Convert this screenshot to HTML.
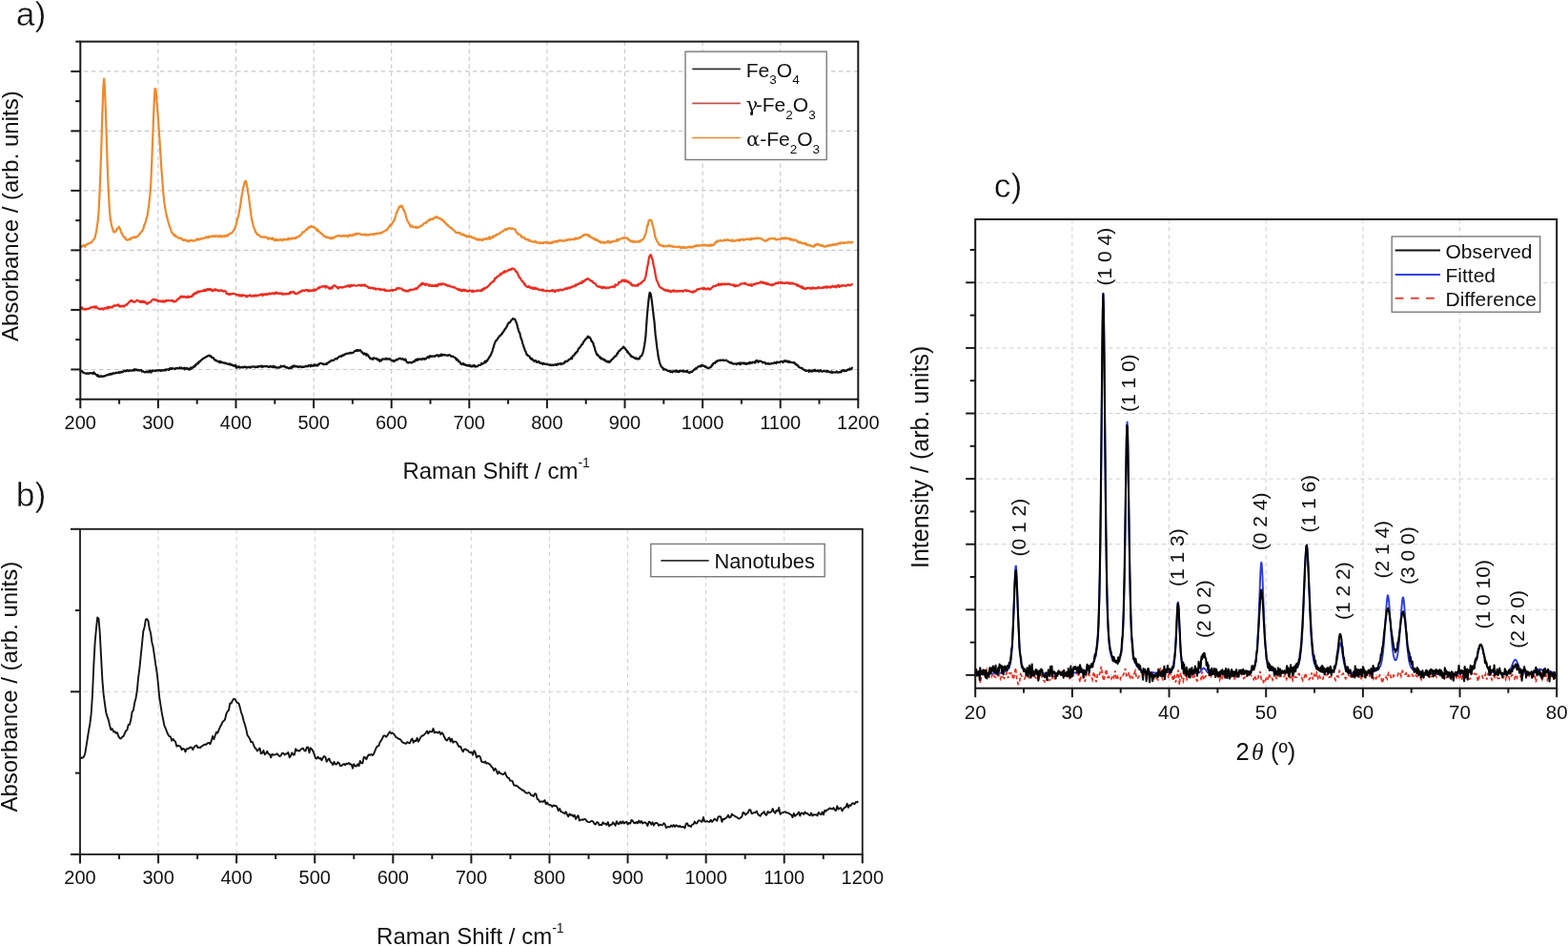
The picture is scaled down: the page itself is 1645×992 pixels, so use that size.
<!DOCTYPE html>
<html><head><meta charset="utf-8"><title>Raman and XRD spectra</title>
<style>html,body{margin:0;padding:0;background:#fff;} svg{display:block;}</style>
</head><body>
<svg width="1645" height="992" viewBox="0 0 1645 992" font-family="'Liberation Sans', sans-serif" fill="#111">
<rect width="1645" height="992" fill="#fff"/>
<line x1="165.90" y1="43.6" x2="165.90" y2="418.7" stroke="#c8c8c8" stroke-width="1.1" stroke-dasharray="4.5 3.5"/>
<line x1="247.50" y1="43.6" x2="247.50" y2="418.7" stroke="#c8c8c8" stroke-width="1.1" stroke-dasharray="4.5 3.5"/>
<line x1="329.10" y1="43.6" x2="329.10" y2="418.7" stroke="#c8c8c8" stroke-width="1.1" stroke-dasharray="4.5 3.5"/>
<line x1="410.70" y1="43.6" x2="410.70" y2="418.7" stroke="#c8c8c8" stroke-width="1.1" stroke-dasharray="4.5 3.5"/>
<line x1="492.30" y1="43.6" x2="492.30" y2="418.7" stroke="#c8c8c8" stroke-width="1.1" stroke-dasharray="4.5 3.5"/>
<line x1="573.90" y1="43.6" x2="573.90" y2="418.7" stroke="#c8c8c8" stroke-width="1.1" stroke-dasharray="4.5 3.5"/>
<line x1="655.50" y1="43.6" x2="655.50" y2="418.7" stroke="#c8c8c8" stroke-width="1.1" stroke-dasharray="4.5 3.5"/>
<line x1="737.10" y1="43.6" x2="737.10" y2="418.7" stroke="#c8c8c8" stroke-width="1.1" stroke-dasharray="4.5 3.5"/>
<line x1="818.70" y1="43.6" x2="818.70" y2="418.7" stroke="#c8c8c8" stroke-width="1.1" stroke-dasharray="4.5 3.5"/>
<line x1="84.3" y1="74.86" x2="900.3" y2="74.86" stroke="#c8c8c8" stroke-width="1.1" stroke-dasharray="4.5 3.5" stroke-dashoffset="-3.6"/>
<line x1="84.3" y1="137.38" x2="900.3" y2="137.38" stroke="#c8c8c8" stroke-width="1.1" stroke-dasharray="4.5 3.5" stroke-dashoffset="-3.6"/>
<line x1="84.3" y1="199.89" x2="900.3" y2="199.89" stroke="#c8c8c8" stroke-width="1.1" stroke-dasharray="4.5 3.5" stroke-dashoffset="-3.6"/>
<line x1="84.3" y1="262.41" x2="900.3" y2="262.41" stroke="#c8c8c8" stroke-width="1.1" stroke-dasharray="4.5 3.5" stroke-dashoffset="-3.6"/>
<line x1="84.3" y1="324.93" x2="900.3" y2="324.93" stroke="#c8c8c8" stroke-width="1.1" stroke-dasharray="4.5 3.5" stroke-dashoffset="-3.6"/>
<line x1="84.3" y1="387.44" x2="900.3" y2="387.44" stroke="#c8c8c8" stroke-width="1.1" stroke-dasharray="4.5 3.5" stroke-dashoffset="-3.6"/>
<path d="M84.00 388.30L84.60 388.86L85.20 389.09L85.80 388.81L86.40 390.22L87.00 390.40L87.60 390.31L88.20 391.13L88.80 391.30L89.40 391.49L90.00 391.54L90.60 391.88L91.20 391.35L91.80 391.61L92.40 391.44L93.00 391.89L93.60 391.59L94.20 391.38L94.80 391.11L95.40 391.29L96.00 391.36L96.60 391.20L97.20 391.90L97.80 391.83L98.40 390.30L99.00 390.92L99.60 392.01L100.20 392.25L100.80 392.89L101.40 393.22L102.00 394.36L102.60 393.14L103.20 393.69L103.80 395.00L104.40 394.59L105.00 394.79L105.60 394.44L106.20 394.07L106.80 394.99L107.40 395.02L108.00 394.40L108.60 394.55L109.20 394.64L109.80 394.01L110.40 394.11L111.00 393.89L111.60 393.57L112.20 393.05L112.80 393.31L113.40 393.26L114.00 392.84L114.60 392.19L115.20 392.75L115.80 392.07L116.40 392.57L117.00 391.57L117.60 392.35L118.20 391.83L118.80 391.17L119.40 391.49L120.00 391.55L120.60 391.55L121.20 390.88L121.80 390.72L122.40 391.20L123.00 390.80L123.60 391.00L124.20 391.12L124.80 389.91L125.40 390.64L126.00 390.94L126.60 390.12L127.20 389.75L127.80 390.31L128.40 389.94L129.00 390.09L129.60 389.39L130.20 388.75L130.80 389.24L131.40 388.96L132.00 389.39L132.60 389.02L133.20 388.10L133.80 388.21L134.40 389.07L135.00 388.92L135.60 388.27L136.20 388.51L136.80 388.66L137.40 388.62L138.00 388.76L138.60 388.43L139.20 388.23L139.80 388.11L140.40 388.67L141.00 387.14L141.60 388.06L142.20 388.11L142.80 387.43L143.40 388.20L144.00 387.74L144.60 388.40L145.20 387.95L145.80 388.31L146.40 388.61L147.00 388.35L147.60 387.98L148.20 387.95L148.80 389.71L149.40 389.18L150.00 389.20L150.60 389.82L151.20 389.86L151.80 390.44L152.40 390.10L153.00 390.08L153.60 389.71L154.20 390.20L154.80 389.45L155.40 390.14L156.00 390.44L156.60 388.98L157.20 388.46L157.80 389.75L158.40 390.52L159.00 388.83L159.60 388.62L160.20 389.36L160.80 388.64L161.40 388.72L162.00 388.73L162.60 389.07L163.20 388.60L163.80 388.86L164.40 388.62L165.00 388.28L165.60 388.47L166.20 388.15L166.80 388.55L167.40 388.01L168.00 387.99L168.60 389.10L169.20 388.38L169.80 388.34L170.40 388.55L171.00 388.09L171.60 388.13L172.20 388.37L172.80 388.25L173.40 387.54L174.00 388.37L174.60 387.64L175.20 387.31L175.80 387.25L176.40 387.32L177.00 388.07L177.60 386.64L178.20 387.07L178.80 385.88L179.40 386.70L180.00 386.98L180.60 386.37L181.20 386.13L181.80 386.48L182.40 386.65L183.00 386.60L183.60 387.16L184.20 386.33L184.80 385.94L185.40 386.13L186.00 386.13L186.60 386.18L187.20 386.10L187.80 386.17L188.40 385.32L189.00 386.43L189.60 385.79L190.20 385.50L190.80 386.31L191.40 386.61L192.00 386.23L192.60 386.08L193.20 385.59L193.80 387.34L194.40 386.55L195.00 385.80L195.60 386.16L196.20 386.76L196.80 386.22L197.40 387.15L198.00 386.95L198.60 387.70L199.20 387.46L199.80 385.58L200.40 386.51L201.00 385.38L201.60 386.18L202.20 385.29L202.80 384.98L203.40 383.78L204.00 384.62L204.60 384.26L205.20 382.43L205.80 382.60L206.40 381.63L207.00 381.41L207.60 380.32L208.20 381.19L208.80 379.38L209.40 379.15L210.00 378.98L210.60 377.95L211.20 377.64L211.80 377.03L212.40 376.79L213.00 375.91L213.60 375.82L214.20 375.50L214.80 375.01L215.40 374.76L216.00 374.20L216.60 374.31L217.20 373.51L217.80 373.34L218.40 372.93L219.00 372.91L219.60 372.61L220.20 373.56L220.80 373.07L221.40 373.61L222.00 374.54L222.60 375.05L223.20 375.22L223.80 375.04L224.40 376.69L225.00 377.15L225.60 376.90L226.20 378.32L226.80 378.03L227.40 378.13L228.00 378.90L228.60 378.97L229.20 379.31L229.80 378.65L230.40 380.33L231.00 379.38L231.60 379.09L232.20 380.19L232.80 379.88L233.40 380.31L234.00 380.15L234.60 380.43L235.20 380.72L235.80 380.43L236.40 381.23L237.00 380.88L237.60 380.86L238.20 381.46L238.80 381.79L239.40 381.66L240.00 381.54L240.60 382.38L241.20 381.48L241.80 381.98L242.40 382.63L243.00 382.17L243.60 382.96L244.20 383.09L244.80 383.70L245.40 383.07L246.00 383.40L246.60 384.05L247.20 383.01L247.80 385.72L248.40 384.22L249.00 384.39L249.60 385.27L250.20 385.00L250.80 384.31L251.40 385.46L252.00 385.58L252.60 384.99L253.20 385.06L253.80 385.40L254.40 384.76L255.00 385.36L255.60 385.23L256.20 384.82L256.80 384.48L257.40 384.99L258.00 384.68L258.60 385.51L259.20 385.10L259.80 385.37L260.40 385.06L261.00 385.09L261.60 384.59L262.20 385.22L262.80 385.69L263.40 384.71L264.00 384.54L264.60 384.70L265.20 384.51L265.80 384.37L266.40 384.71L267.00 384.48L267.60 385.22L268.20 384.54L268.80 384.65L269.40 384.90L270.00 384.32L270.60 385.08L271.20 384.13L271.80 384.04L272.40 384.24L273.00 384.35L273.60 383.77L274.20 384.38L274.80 383.65L275.40 385.03L276.00 384.36L276.60 384.11L277.20 383.99L277.80 384.23L278.40 384.30L279.00 383.93L279.60 383.99L280.20 384.32L280.80 384.17L281.40 384.82L282.00 384.91L282.60 384.41L283.20 384.61L283.80 383.80L284.40 384.70L285.00 384.44L285.60 384.74L286.20 385.33L286.80 383.68L287.40 384.94L288.00 384.45L288.60 385.34L289.20 384.60L289.80 385.09L290.40 385.50L291.00 385.77L291.60 385.59L292.20 385.21L292.80 385.25L293.40 385.68L294.00 384.93L294.60 383.77L295.20 384.55L295.80 384.11L296.40 384.24L297.00 383.75L297.60 384.40L298.20 383.74L298.80 384.70L299.40 384.48L300.00 385.27L300.60 385.68L301.20 385.14L301.80 385.66L302.40 385.86L303.00 386.48L303.60 386.27L304.20 385.29L304.80 385.82L305.40 385.63L306.00 385.90L306.60 383.84L307.20 384.06L307.80 384.71L308.40 383.42L309.00 383.48L309.60 384.27L310.20 384.53L310.80 383.82L311.40 384.41L312.00 384.28L312.60 384.97L313.20 384.35L313.80 384.86L314.40 384.07L315.00 384.46L315.60 384.55L316.20 385.15L316.80 384.93L317.40 384.35L318.00 385.00L318.60 385.02L319.20 384.58L319.80 384.44L320.40 384.38L321.00 383.60L321.60 384.32L322.20 384.21L322.80 383.58L323.40 384.17L324.00 383.09L324.60 383.33L325.20 383.25L325.80 384.26L326.40 382.57L327.00 383.49L327.60 383.63L328.20 383.37L328.80 383.73L329.40 382.75L330.00 382.17L330.60 383.55L331.20 382.66L331.80 383.05L332.40 382.64L333.00 383.50L333.60 383.08L334.20 381.86L334.80 382.03L335.40 381.20L336.00 380.78L336.60 380.82L337.20 380.83L337.80 381.44L338.40 381.58L339.00 381.52L339.60 382.28L340.20 381.58L340.80 381.92L341.40 381.83L342.00 382.11L342.60 380.97L343.20 381.69L343.80 380.66L344.40 380.16L345.00 379.60L345.60 379.82L346.20 379.24L346.80 378.41L347.40 378.10L348.00 378.06L348.60 377.71L349.20 378.21L349.80 378.03L350.40 377.49L351.00 376.95L351.60 376.28L352.20 376.19L352.80 376.25L353.40 376.51L354.00 375.66L354.60 374.82L355.20 374.66L355.80 374.11L356.40 373.66L357.00 373.60L357.60 373.44L358.20 373.86L358.80 372.74L359.40 373.02L360.00 372.91L360.60 371.88L361.20 372.32L361.80 371.69L362.40 370.99L363.00 371.13L363.60 370.89L364.20 370.66L364.80 370.58L365.40 370.66L366.00 370.72L366.60 370.05L367.20 370.37L367.80 369.62L368.40 370.33L369.00 370.38L369.60 370.04L370.20 369.91L370.80 369.74L371.40 368.71L372.00 368.32L372.60 368.07L373.20 367.83L373.80 367.28L374.40 368.18L375.00 367.02L375.60 367.58L376.20 367.81L376.80 367.31L377.40 367.16L378.00 367.19L378.60 368.06L379.20 368.92L379.80 369.26L380.40 370.05L381.00 370.49L381.60 371.31L382.20 370.31L382.80 371.52L383.40 371.54L384.00 371.04L384.60 372.81L385.20 371.50L385.80 372.12L386.40 372.70L387.00 374.48L387.60 374.34L388.20 375.74L388.80 376.25L389.40 376.45L390.00 375.84L390.60 376.07L391.20 376.90L391.80 375.34L392.40 375.34L393.00 375.51L393.60 375.94L394.20 375.83L394.80 376.34L395.40 375.91L396.00 377.23L396.60 377.47L397.20 376.83L397.80 378.47L398.40 378.89L399.00 377.50L399.60 377.78L400.20 378.26L400.80 376.81L401.40 376.39L402.00 376.51L402.60 376.63L403.20 376.42L403.80 376.75L404.40 376.42L405.00 375.58L405.60 376.28L406.20 376.79L406.80 376.47L407.40 376.45L408.00 376.18L408.60 376.86L409.20 376.30L409.80 377.42L410.40 377.41L411.00 378.32L411.60 378.34L412.20 377.91L412.80 378.63L413.40 379.20L414.00 378.07L414.60 378.10L415.20 377.67L415.80 376.93L416.40 377.58L417.00 377.31L417.60 376.71L418.20 376.19L418.80 375.92L419.40 376.03L420.00 375.63L420.60 376.42L421.20 376.57L421.80 376.63L422.40 376.10L423.00 376.53L423.60 376.58L424.20 377.65L424.80 377.15L425.40 376.58L426.00 378.17L426.60 379.57L427.20 379.80L427.80 380.52L428.40 380.54L429.00 379.76L429.60 379.80L430.20 379.95L430.80 380.31L431.40 380.32L432.00 380.28L432.60 379.60L433.20 379.95L433.80 379.15L434.40 378.73L435.00 379.20L435.60 378.15L436.20 377.08L436.80 377.58L437.40 377.89L438.00 376.28L438.60 377.34L439.20 377.20L439.80 376.57L440.40 376.42L441.00 376.75L441.60 376.59L442.20 377.28L442.80 376.76L443.40 375.75L444.00 375.94L444.60 376.50L445.20 376.88L445.80 376.04L446.40 375.81L447.00 376.30L447.60 375.22L448.20 374.85L448.80 374.12L449.40 374.29L450.00 375.28L450.60 373.47L451.20 373.95L451.80 373.17L452.40 373.75L453.00 373.99L453.60 373.38L454.20 373.71L454.80 373.61L455.40 373.39L456.00 373.87L456.60 373.36L457.20 372.79L457.80 372.53L458.40 372.38L459.00 372.90L459.60 372.47L460.20 373.78L460.80 373.32L461.40 372.34L462.00 372.24L462.60 373.10L463.20 371.45L463.80 372.07L464.40 372.67L465.00 371.81L465.60 371.99L466.20 372.05L466.80 372.51L467.40 372.30L468.00 372.47L468.60 372.63L469.20 372.47L469.80 373.07L470.40 372.37L471.00 372.19L471.60 372.19L472.20 372.43L472.80 373.08L473.40 373.98L474.00 373.79L474.60 373.64L475.20 373.66L475.80 374.20L476.40 374.63L477.00 375.00L477.60 375.11L478.20 376.08L478.80 377.32L479.40 376.48L480.00 377.94L480.60 377.68L481.20 379.29L481.80 379.40L482.40 379.28L483.00 380.68L483.60 381.80L484.20 381.32L484.80 382.04L485.40 381.71L486.00 380.99L486.60 382.39L487.20 382.17L487.80 381.88L488.40 383.05L489.00 382.98L489.60 382.75L490.20 383.50L490.80 382.83L491.40 383.60L492.00 382.98L492.60 383.72L493.20 383.07L493.80 384.31L494.40 383.83L495.00 384.44L495.60 383.49L496.20 383.70L496.80 384.34L497.40 382.78L498.00 383.57L498.60 384.54L499.20 384.30L499.80 384.53L500.40 383.91L501.00 384.22L501.60 383.50L502.20 383.04L502.80 382.69L503.40 382.98L504.00 382.74L504.60 382.45L505.20 380.86L505.80 381.24L506.40 381.53L507.00 381.48L507.60 380.64L508.20 380.02L508.80 378.87L509.40 380.29L510.00 378.33L510.60 379.00L511.20 378.31L511.80 377.05L512.40 375.92L513.00 375.42L513.60 373.95L514.20 373.53L514.80 372.16L515.40 370.93L516.00 369.48L516.60 368.10L517.20 365.35L517.80 364.21L518.40 361.65L519.00 359.99L519.60 358.66L520.20 357.26L520.80 357.12L521.40 356.21L522.00 355.58L522.60 354.27L523.20 353.74L523.80 352.73L524.40 351.86L525.00 351.97L525.60 351.28L526.20 350.02L526.80 350.10L527.40 348.32L528.00 348.21L528.60 347.10L529.20 346.16L529.80 344.86L530.40 344.71L531.00 343.45L531.60 342.68L532.20 341.21L532.80 339.64L533.40 339.24L534.00 338.15L534.60 338.19L535.20 337.85L535.80 336.79L536.40 335.74L537.00 335.29L537.60 335.07L538.20 333.98L538.80 334.49L539.40 334.55L540.00 334.65L540.60 335.62L541.20 337.23L541.80 338.46L542.40 340.35L543.00 343.09L543.60 344.88L544.20 347.49L544.80 348.14L545.40 349.60L546.00 352.73L546.60 354.76L547.20 356.09L547.80 357.87L548.40 360.61L549.00 361.87L549.60 364.42L550.20 365.35L550.80 367.79L551.40 368.25L552.00 370.16L552.60 371.81L553.20 371.78L553.80 372.96L554.40 373.00L555.00 373.52L555.60 373.84L556.20 375.54L556.80 375.56L557.40 376.81L558.00 376.00L558.60 376.86L559.20 377.39L559.80 378.35L560.40 378.88L561.00 378.09L561.60 378.17L562.20 378.17L562.80 379.82L563.40 379.42L564.00 379.40L564.60 379.89L565.20 378.97L565.80 379.54L566.40 380.92L567.00 380.84L567.60 380.89L568.20 380.52L568.80 381.37L569.40 382.04L570.00 380.82L570.60 381.51L571.20 381.44L571.80 381.92L572.40 381.89L573.00 381.94L573.60 381.72L574.20 382.22L574.80 382.05L575.40 382.35L576.00 382.46L576.60 382.85L577.20 382.35L577.80 382.50L578.40 383.15L579.00 382.57L579.60 382.54L580.20 383.03L580.80 382.73L581.40 382.61L582.00 382.62L582.60 381.90L583.20 382.59L583.80 382.91L584.40 382.49L585.00 381.43L585.60 382.16L586.20 381.52L586.80 381.71L587.40 381.76L588.00 381.04L588.60 382.05L589.20 381.28L589.80 381.53L590.40 381.29L591.00 381.40L591.60 381.08L592.20 379.60L592.80 379.96L593.40 378.62L594.00 379.00L594.60 379.12L595.20 378.78L595.80 378.51L596.40 377.30L597.00 377.15L597.60 376.58L598.20 376.63L598.80 376.28L599.40 374.87L600.00 376.17L600.60 373.87L601.20 373.08L601.80 372.86L602.40 372.26L603.00 371.47L603.60 370.22L604.20 370.45L604.80 369.09L605.40 369.02L606.00 368.20L606.60 366.22L607.20 365.53L607.80 364.68L608.40 364.38L609.00 363.42L609.60 362.65L610.20 361.30L610.80 361.01L611.40 360.62L612.00 358.55L612.60 358.17L613.20 357.41L613.80 356.27L614.40 355.30L615.00 355.33L615.60 354.41L616.20 353.69L616.80 352.69L617.40 354.05L618.00 353.51L618.60 353.66L619.20 354.54L619.80 355.40L620.40 357.59L621.00 357.80L621.60 358.90L622.20 359.31L622.80 362.30L623.40 363.37L624.00 365.28L624.60 367.95L625.20 368.97L625.80 371.10L626.40 372.24L627.00 371.70L627.60 373.09L628.20 373.03L628.80 374.23L629.40 375.14L630.00 374.55L630.60 376.38L631.20 375.80L631.80 375.77L632.40 376.60L633.00 377.37L633.60 376.75L634.20 377.73L634.80 377.46L635.40 378.94L636.00 378.75L636.60 378.73L637.20 379.57L637.80 378.64L638.40 379.07L639.00 380.00L639.60 378.90L640.20 379.25L640.80 378.31L641.40 377.41L642.00 377.07L642.60 376.64L643.20 375.83L643.80 375.07L644.40 374.52L645.00 373.63L645.60 373.70L646.20 373.10L646.80 372.48L647.40 370.51L648.00 370.83L648.60 369.60L649.20 368.12L649.80 367.99L650.40 367.54L651.00 366.69L651.60 366.15L652.20 365.72L652.80 365.28L653.40 364.58L654.00 363.53L654.60 364.19L655.20 364.99L655.80 365.12L656.40 366.30L657.00 367.12L657.60 367.63L658.20 369.33L658.80 368.89L659.40 370.53L660.00 370.64L660.60 371.26L661.20 372.63L661.80 372.80L662.40 374.05L663.00 373.59L663.60 374.49L664.20 374.42L664.80 374.99L665.40 375.20L666.00 375.10L666.60 376.11L667.20 375.42L667.80 375.65L668.40 376.56L669.00 376.57L669.60 376.30L670.20 375.88L670.80 376.35L671.40 374.26L672.00 373.86L672.60 373.04L673.20 373.03L673.80 371.56L674.40 370.27L675.00 368.04L675.60 364.84L676.20 361.39L676.80 357.10L677.40 352.30L678.00 343.54L678.60 334.95L679.20 327.28L679.80 321.01L680.40 315.24L681.00 310.61L681.60 306.82L682.20 307.29L682.80 308.73L683.40 312.30L684.00 316.67L684.60 321.95L685.20 326.71L685.80 332.34L686.40 336.60L687.00 343.46L687.60 350.88L688.20 355.12L688.80 360.42L689.40 365.39L690.00 369.01L690.60 373.78L691.20 376.38L691.80 379.07L692.40 381.43L693.00 382.61L693.60 384.24L694.20 384.80L694.80 385.69L695.40 385.59L696.00 387.63L696.60 386.81L697.20 387.15L697.80 387.65L698.40 387.58L699.00 387.64L699.60 388.19L700.20 388.78L700.80 388.88L701.40 389.19L702.00 388.70L702.60 388.76L703.20 390.16L703.80 389.28L704.40 389.71L705.00 389.91L705.60 390.28L706.20 389.07L706.80 389.47L707.40 389.49L708.00 389.54L708.60 388.58L709.20 389.60L709.80 388.32L710.40 389.73L711.00 389.81L711.60 389.81L712.20 388.97L712.80 389.91L713.40 389.06L714.00 388.87L714.60 388.95L715.20 388.99L715.80 389.43L716.40 389.70L717.00 388.37L717.60 389.06L718.20 389.71L718.80 389.42L719.40 389.61L720.00 388.80L720.60 390.02L721.20 389.02L721.80 389.95L722.40 390.60L723.00 390.93L723.60 390.39L724.20 390.56L724.80 389.82L725.40 389.69L726.00 390.14L726.60 389.24L727.20 388.73L727.80 387.67L728.40 387.85L729.00 387.55L729.60 386.39L730.20 386.04L730.80 386.55L731.40 385.55L732.00 385.00L732.60 384.28L733.20 384.17L733.80 384.00L734.40 384.43L735.00 383.28L735.60 384.18L736.20 382.84L736.80 383.09L737.40 383.73L738.00 383.46L738.60 383.48L739.20 384.15L739.80 384.79L740.40 384.20L741.00 385.22L741.60 385.60L742.20 385.70L742.80 386.35L743.40 385.77L744.00 385.69L744.60 385.53L745.20 385.36L745.80 384.34L746.40 384.45L747.00 382.63L747.60 382.88L748.20 381.19L748.80 380.83L749.40 380.48L750.00 380.77L750.60 379.88L751.20 378.99L751.80 379.48L752.40 378.53L753.00 378.02L753.60 378.35L754.20 377.99L754.80 378.22L755.40 377.44L756.00 377.80L756.60 377.90L757.20 377.75L757.80 377.63L758.40 377.37L759.00 378.14L759.60 377.85L760.20 378.08L760.80 377.77L761.40 378.01L762.00 377.63L762.60 378.27L763.20 378.78L763.80 378.76L764.40 379.43L765.00 379.54L765.60 380.40L766.20 380.07L766.80 379.78L767.40 381.02L768.00 381.01L768.60 380.83L769.20 381.66L769.80 381.51L770.40 381.60L771.00 381.24L771.60 381.48L772.20 381.50L772.80 382.17L773.40 381.06L774.00 381.35L774.60 381.50L775.20 380.55L775.80 380.59L776.40 382.27L777.00 380.48L777.60 381.52L778.20 380.86L778.80 380.88L779.40 380.30L780.00 380.77L780.60 381.50L781.20 380.50L781.80 381.37L782.40 381.21L783.00 381.95L783.60 380.80L784.20 381.55L784.80 381.34L785.40 380.74L786.00 380.04L786.60 381.37L787.20 379.97L787.80 380.24L788.40 380.72L789.00 380.69L789.60 379.67L790.20 379.89L790.80 379.65L791.40 380.15L792.00 380.61L792.60 378.53L793.20 379.65L793.80 377.84L794.40 379.03L795.00 378.45L795.60 379.78L796.20 378.91L796.80 378.48L797.40 378.61L798.00 378.65L798.60 379.13L799.20 379.16L799.80 379.76L800.40 380.42L801.00 380.32L801.60 379.75L802.20 379.86L802.80 380.53L803.40 381.59L804.00 381.19L804.60 381.21L805.20 381.69L805.80 381.04L806.40 381.17L807.00 381.88L807.60 381.46L808.20 381.32L808.80 381.58L809.40 381.06L810.00 380.90L810.60 380.87L811.20 381.21L811.80 380.82L812.40 380.11L813.00 380.36L813.60 380.64L814.20 381.04L814.80 379.54L815.40 380.07L816.00 379.67L816.60 380.04L817.20 379.77L817.80 380.13L818.40 379.61L819.00 379.04L819.60 378.94L820.20 379.28L820.80 379.19L821.40 380.01L822.00 379.63L822.60 378.30L823.20 378.97L823.80 378.21L824.40 378.10L825.00 379.22L825.60 379.21L826.20 378.58L826.80 379.89L827.40 378.82L828.00 378.87L828.60 379.83L829.20 379.78L829.80 379.77L830.40 379.97L831.00 380.27L831.60 380.27L832.20 380.43L832.80 379.86L833.40 380.34L834.00 381.51L834.60 381.24L835.20 382.16L835.80 382.86L836.40 382.55L837.00 383.27L837.60 384.52L838.20 384.36L838.80 385.33L839.40 385.65L840.00 385.76L840.60 385.81L841.20 385.91L841.80 386.20L842.40 387.31L843.00 387.65L843.60 387.68L844.20 388.42L844.80 388.01L845.40 388.96L846.00 388.61L846.60 388.66L847.20 388.71L847.80 388.69L848.40 389.87L849.00 388.04L849.60 388.86L850.20 389.35L850.80 389.12L851.40 388.67L852.00 389.60L852.60 388.34L853.20 388.25L853.80 389.10L854.40 388.19L855.00 387.78L855.60 389.26L856.20 389.21L856.80 389.20L857.40 388.66L858.00 388.96L858.60 388.45L859.20 389.68L859.80 389.26L860.40 389.25L861.00 388.05L861.60 389.30L862.20 389.62L862.80 389.51L863.40 389.33L864.00 388.99L864.60 388.86L865.20 389.32L865.80 389.27L866.40 389.26L867.00 389.08L867.60 390.05L868.20 388.86L868.80 389.46L869.40 389.30L870.00 390.13L870.60 390.40L871.20 390.42L871.80 390.29L872.40 389.41L873.00 391.07L873.60 390.45L874.20 390.24L874.80 390.36L875.40 390.26L876.00 390.64L876.60 390.62L877.20 390.33L877.80 389.33L878.40 390.44L879.00 390.62L879.60 390.56L880.20 390.16L880.80 390.32L881.40 390.45L882.00 389.63L882.60 390.35L883.20 388.65L883.80 388.80L884.40 388.79L885.00 387.92L885.60 388.40L886.20 389.24L886.80 389.07L887.40 388.40L888.00 388.97L888.60 388.14L889.20 387.65L889.80 387.81L890.40 387.47L891.00 387.68L891.60 386.49L892.20 387.43L892.80 386.58L893.40 386.98L894.00 385.71L894.60 386.07" fill="none" stroke="#141414" stroke-width="2.2" stroke-linejoin="round"/>
<path d="M84.00 322.57L84.60 322.48L85.20 322.80L85.80 322.15L86.40 324.29L87.00 324.20L87.60 323.71L88.20 324.34L88.80 324.22L89.40 323.91L90.00 324.62L90.60 324.02L91.20 323.92L91.80 323.58L92.40 323.96L93.00 323.50L93.60 323.56L94.20 322.79L94.80 322.87L95.40 322.17L96.00 322.72L96.60 322.23L97.20 322.14L97.80 322.06L98.40 321.37L99.00 322.20L99.60 322.85L100.20 321.34L100.80 321.49L101.40 321.82L102.00 323.12L102.60 323.06L103.20 323.73L103.80 323.79L104.40 323.75L105.00 323.92L105.60 323.79L106.20 324.28L106.80 323.35L107.40 323.63L108.00 323.86L108.60 324.47L109.20 323.21L109.80 322.96L110.40 323.06L111.00 323.62L111.60 322.94L112.20 323.50L112.80 321.92L113.40 323.13L114.00 322.95L114.60 321.71L115.20 322.27L115.80 322.58L116.40 321.88L117.00 322.09L117.60 322.51L118.20 321.36L118.80 320.90L119.40 320.49L120.00 320.96L120.60 320.42L121.20 320.30L121.80 320.24L122.40 320.52L123.00 319.74L123.60 319.59L124.20 319.29L124.80 321.08L125.40 320.75L126.00 321.57L126.60 321.03L127.20 320.80L127.80 321.39L128.40 321.11L129.00 320.48L129.60 320.49L130.20 321.48L130.80 320.59L131.40 320.33L132.00 319.71L132.60 319.19L133.20 319.55L133.80 318.70L134.40 317.88L135.00 317.47L135.60 316.35L136.20 316.12L136.80 316.00L137.40 314.85L138.00 315.92L138.60 315.27L139.20 316.05L139.80 316.03L140.40 316.64L141.00 316.90L141.60 316.53L142.20 316.00L142.80 315.55L143.40 315.16L144.00 314.72L144.60 315.32L145.20 315.66L145.80 315.95L146.40 315.92L147.00 316.83L147.60 315.98L148.20 315.76L148.80 316.94L149.40 315.77L150.00 316.84L150.60 316.14L151.20 316.90L151.80 316.04L152.40 317.57L153.00 317.42L153.60 317.41L154.20 318.83L154.80 318.46L155.40 318.00L156.00 317.38L156.60 317.33L157.20 316.84L157.80 316.76L158.40 316.30L159.00 315.16L159.60 314.77L160.20 314.40L160.80 313.74L161.40 313.92L162.00 314.10L162.60 314.50L163.20 314.90L163.80 314.12L164.40 314.94L165.00 314.72L165.60 316.09L166.20 315.38L166.80 315.85L167.40 315.39L168.00 315.59L168.60 316.14L169.20 315.91L169.80 316.24L170.40 315.34L171.00 316.29L171.60 315.53L172.20 316.63L172.80 315.64L173.40 316.18L174.00 314.96L174.60 315.69L175.20 315.01L175.80 315.11L176.40 315.27L177.00 315.05L177.60 315.27L178.20 315.46L178.80 315.43L179.40 315.19L180.00 314.81L180.60 315.32L181.20 315.85L181.80 315.19L182.40 316.58L183.00 316.09L183.60 315.91L184.20 316.16L184.80 315.66L185.40 315.01L186.00 313.96L186.60 314.02L187.20 313.51L187.80 312.44L188.40 312.83L189.00 312.17L189.60 310.72L190.20 311.42L190.80 310.68L191.40 311.72L192.00 311.58L192.60 310.74L193.20 310.87L193.80 311.35L194.40 311.23L195.00 312.06L195.60 311.74L196.20 311.31L196.80 311.72L197.40 310.57L198.00 311.63L198.60 311.84L199.20 311.24L199.80 310.78L200.40 311.05L201.00 311.30L201.60 310.08L202.20 309.03L202.80 309.71L203.40 307.75L204.00 308.38L204.60 307.49L205.20 307.83L205.80 306.74L206.40 307.47L207.00 306.77L207.60 305.64L208.20 305.31L208.80 305.85L209.40 306.37L210.00 305.66L210.60 305.45L211.20 305.14L211.80 305.42L212.40 305.10L213.00 304.90L213.60 304.18L214.20 305.00L214.80 304.92L215.40 303.57L216.00 305.04L216.60 304.20L217.20 303.55L217.80 302.83L218.40 303.93L219.00 303.86L219.60 303.35L220.20 302.83L220.80 304.18L221.40 303.46L222.00 303.57L222.60 305.13L223.20 304.88L223.80 304.43L224.40 303.88L225.00 304.46L225.60 303.22L226.20 304.38L226.80 304.07L227.40 303.91L228.00 303.84L228.60 304.85L229.20 304.71L229.80 304.80L230.40 305.16L231.00 304.45L231.60 304.34L232.20 304.16L232.80 304.88L233.40 305.45L234.00 305.13L234.60 305.59L235.20 304.89L235.80 305.38L236.40 305.54L237.00 305.83L237.60 307.90L238.20 308.15L238.80 307.99L239.40 308.33L240.00 308.75L240.60 308.12L241.20 308.92L241.80 308.10L242.40 308.46L243.00 308.11L243.60 308.30L244.20 307.87L244.80 307.72L245.40 307.98L246.00 308.12L246.60 308.34L247.20 308.60L247.80 309.39L248.40 309.23L249.00 308.93L249.60 309.56L250.20 309.12L250.80 310.28L251.40 310.06L252.00 309.36L252.60 310.45L253.20 310.58L253.80 309.06L254.40 309.96L255.00 310.08L255.60 309.43L256.20 309.81L256.80 309.85L257.40 310.50L258.00 310.40L258.60 311.43L259.20 310.06L259.80 310.74L260.40 310.24L261.00 310.31L261.60 309.65L262.20 309.29L262.80 309.79L263.40 310.46L264.00 310.80L264.60 310.34L265.20 310.27L265.80 309.65L266.40 310.69L267.00 310.58L267.60 309.70L268.20 309.88L268.80 309.41L269.40 310.46L270.00 309.93L270.60 309.65L271.20 309.81L271.80 309.76L272.40 309.31L273.00 308.86L273.60 308.77L274.20 308.49L274.80 309.40L275.40 310.11L276.00 308.27L276.60 309.02L277.20 309.06L277.80 308.35L278.40 308.81L279.00 308.15L279.60 309.11L280.20 308.23L280.80 308.47L281.40 308.66L282.00 308.08L282.60 307.39L283.20 307.87L283.80 308.36L284.40 307.88L285.00 307.93L285.60 307.25L286.20 307.71L286.80 307.89L287.40 307.50L288.00 308.27L288.60 307.25L289.20 306.83L289.80 306.52L290.40 307.74L291.00 307.18L291.60 307.67L292.20 307.45L292.80 308.04L293.40 307.96L294.00 307.32L294.60 307.73L295.20 308.22L295.80 307.30L296.40 308.63L297.00 308.64L297.60 308.64L298.20 308.19L298.80 308.48L299.40 307.88L300.00 308.41L300.60 308.07L301.20 308.28L301.80 307.89L302.40 308.07L303.00 308.29L303.60 306.97L304.20 307.76L304.80 306.25L305.40 305.97L306.00 306.72L306.60 306.62L307.20 306.71L307.80 305.71L308.40 306.49L309.00 306.89L309.60 307.90L310.20 307.75L310.80 308.24L311.40 307.52L312.00 307.67L312.60 307.25L313.20 307.40L313.80 306.21L314.40 305.84L315.00 306.03L315.60 306.16L316.20 305.16L316.80 304.84L317.40 304.36L318.00 304.92L318.60 304.65L319.20 305.20L319.80 304.58L320.40 304.02L321.00 304.22L321.60 304.06L322.20 303.97L322.80 305.13L323.40 304.96L324.00 304.07L324.60 305.46L325.20 304.80L325.80 304.29L326.40 304.92L327.00 304.73L327.60 304.43L328.20 303.92L328.80 304.80L329.40 304.87L330.00 303.44L330.60 304.62L331.20 304.35L331.80 303.50L332.40 303.36L333.00 302.76L333.60 302.09L334.20 301.91L334.80 302.33L335.40 300.77L336.00 301.31L336.60 301.13L337.20 300.60L337.80 300.61L338.40 300.07L339.00 300.22L339.60 300.52L340.20 300.59L340.80 299.97L341.40 301.71L342.00 300.07L342.60 300.45L343.20 300.53L343.80 300.85L344.40 302.10L345.00 301.73L345.60 302.84L346.20 302.82L346.80 301.70L347.40 302.34L348.00 301.18L348.60 302.27L349.20 300.44L349.80 299.84L350.40 299.18L351.00 299.41L351.60 299.92L352.20 300.11L352.80 300.48L353.40 301.17L354.00 301.72L354.60 302.61L355.20 301.20L355.80 301.68L356.40 301.44L357.00 301.10L357.60 301.11L358.20 301.16L358.80 301.75L359.40 301.20L360.00 300.89L360.60 301.25L361.20 300.94L361.80 300.55L362.40 300.66L363.00 299.95L363.60 300.45L364.20 300.22L364.80 299.68L365.40 299.19L366.00 300.30L366.60 299.56L367.20 300.81L367.80 299.07L368.40 299.71L369.00 299.11L369.60 299.41L370.20 299.68L370.80 298.94L371.40 299.25L372.00 299.37L372.60 299.35L373.20 299.57L373.80 299.76L374.40 299.68L375.00 299.42L375.60 299.14L376.20 298.79L376.80 298.97L377.40 299.06L378.00 299.61L378.60 299.14L379.20 298.74L379.80 299.58L380.40 298.94L381.00 298.96L381.60 299.24L382.20 299.64L382.80 298.51L383.40 299.31L384.00 300.16L384.60 300.20L385.20 300.27L385.80 300.70L386.40 301.81L387.00 301.19L387.60 301.89L388.20 302.07L388.80 301.64L389.40 302.18L390.00 301.90L390.60 301.95L391.20 301.83L391.80 302.85L392.40 302.38L393.00 302.41L393.60 302.26L394.20 303.67L394.80 303.29L395.40 302.98L396.00 302.82L396.60 302.53L397.20 303.43L397.80 303.51L398.40 302.83L399.00 304.06L399.60 303.96L400.20 303.26L400.80 303.52L401.40 303.66L402.00 304.00L402.60 303.94L403.20 303.35L403.80 304.83L404.40 304.39L405.00 304.89L405.60 304.95L406.20 304.36L406.80 304.67L407.40 304.91L408.00 304.98L408.60 304.60L409.20 304.44L409.80 304.77L410.40 304.41L411.00 304.54L411.60 303.87L412.20 304.75L412.80 304.09L413.40 304.06L414.00 303.98L414.60 303.80L415.20 304.16L415.80 303.08L416.40 302.08L417.00 302.59L417.60 302.17L418.20 302.63L418.80 302.22L419.40 302.35L420.00 302.61L420.60 302.77L421.20 302.47L421.80 303.24L422.40 303.78L423.00 304.57L423.60 304.12L424.20 304.28L424.80 304.87L425.40 304.96L426.00 305.50L426.60 305.05L427.20 304.76L427.80 305.33L428.40 305.36L429.00 304.39L429.60 304.58L430.20 303.65L430.80 304.13L431.40 303.77L432.00 303.93L432.60 303.65L433.20 303.63L433.80 303.49L434.40 303.57L435.00 303.26L435.60 302.71L436.20 302.17L436.80 303.09L437.40 302.91L438.00 301.70L438.60 301.66L439.20 300.13L439.80 299.47L440.40 299.40L441.00 299.56L441.60 297.88L442.20 297.54L442.80 298.37L443.40 296.69L444.00 297.83L444.60 297.83L445.20 297.61L445.80 297.91L446.40 299.16L447.00 297.64L447.60 298.19L448.20 298.41L448.80 298.41L449.40 298.31L450.00 299.82L450.60 299.38L451.20 298.66L451.80 299.28L452.40 299.90L453.00 299.99L453.60 299.22L454.20 299.84L454.80 299.97L455.40 299.95L456.00 299.83L456.60 298.68L457.20 300.15L457.80 299.22L458.40 299.73L459.00 300.00L459.60 298.44L460.20 297.77L460.80 298.56L461.40 297.96L462.00 297.75L462.60 297.45L463.20 298.68L463.80 297.75L464.40 297.38L465.00 297.89L465.60 297.67L466.20 298.38L466.80 298.26L467.40 298.12L468.00 299.03L468.60 298.64L469.20 299.43L469.80 299.86L470.40 299.31L471.00 299.38L471.60 299.95L472.20 300.45L472.80 300.23L473.40 300.48L474.00 300.58L474.60 300.93L475.20 301.29L475.80 300.92L476.40 301.27L477.00 301.76L477.60 301.71L478.20 302.33L478.80 302.77L479.40 302.78L480.00 302.77L480.60 302.93L481.20 304.28L481.80 304.09L482.40 303.36L483.00 303.64L483.60 304.97L484.20 304.90L484.80 304.35L485.40 304.89L486.00 303.77L486.60 304.51L487.20 304.90L487.80 303.79L488.40 304.34L489.00 305.10L489.60 305.31L490.20 304.58L490.80 305.02L491.40 305.65L492.00 304.80L492.60 304.40L493.20 305.00L493.80 304.88L494.40 305.66L495.00 305.16L495.60 304.73L496.20 306.18L496.80 304.87L497.40 305.30L498.00 305.38L498.60 305.41L499.20 305.11L499.80 305.27L500.40 304.94L501.00 304.29L501.60 304.79L502.20 304.75L502.80 304.71L503.40 304.79L504.00 304.39L504.60 305.19L505.20 305.19L505.80 303.32L506.40 304.07L507.00 303.44L507.60 302.23L508.20 303.18L508.80 302.28L509.40 301.92L510.00 301.32L510.60 301.61L511.20 301.19L511.80 300.28L512.40 299.98L513.00 299.10L513.60 298.65L514.20 297.66L514.80 297.39L515.40 296.41L516.00 296.25L516.60 295.79L517.20 294.90L517.80 294.65L518.40 294.70L519.00 291.93L519.60 292.31L520.20 291.51L520.80 291.05L521.40 290.16L522.00 290.31L522.60 289.69L523.20 289.05L523.80 288.76L524.40 288.16L525.00 286.93L525.60 288.04L526.20 287.01L526.80 286.32L527.40 286.50L528.00 285.69L528.60 284.66L529.20 285.71L529.80 284.25L530.40 284.61L531.00 284.46L531.60 284.72L532.20 284.35L532.80 283.59L533.40 282.88L534.00 282.76L534.60 283.18L535.20 283.25L535.80 282.48L536.40 281.76L537.00 282.37L537.60 281.63L538.20 281.56L538.80 281.66L539.40 282.28L540.00 282.62L540.60 283.66L541.20 284.69L541.80 285.35L542.40 285.16L543.00 286.55L543.60 288.46L544.20 289.36L544.80 291.25L545.40 291.10L546.00 291.90L546.60 293.26L547.20 294.19L547.80 294.49L548.40 295.68L549.00 295.81L549.60 296.70L550.20 298.44L550.80 297.95L551.40 299.62L552.00 300.05L552.60 300.53L553.20 300.94L553.80 301.05L554.40 300.05L555.00 300.77L555.60 301.14L556.20 301.99L556.80 301.23L557.40 301.57L558.00 301.86L558.60 302.74L559.20 301.62L559.80 301.78L560.40 302.78L561.00 301.66L561.60 302.88L562.20 302.64L562.80 302.25L563.40 302.90L564.00 302.76L564.60 303.42L565.20 303.65L565.80 304.29L566.40 303.75L567.00 303.94L567.60 303.77L568.20 304.16L568.80 304.77L569.40 303.55L570.00 304.83L570.60 304.41L571.20 304.78L571.80 304.98L572.40 305.30L573.00 305.09L573.60 304.86L574.20 305.21L574.80 305.10L575.40 305.00L576.00 305.18L576.60 305.47L577.20 305.13L577.80 305.11L578.40 304.44L579.00 304.93L579.60 304.11L580.20 305.23L580.80 304.44L581.40 305.39L582.00 306.11L582.60 304.53L583.20 305.24L583.80 304.77L584.40 304.27L585.00 304.08L585.60 304.65L586.20 304.95L586.80 304.42L587.40 303.51L588.00 303.64L588.60 303.91L589.20 304.52L589.80 303.93L590.40 303.82L591.00 304.09L591.60 303.31L592.20 303.21L592.80 303.01L593.40 302.13L594.00 302.97L594.60 302.76L595.20 302.84L595.80 301.67L596.40 301.65L597.00 302.25L597.60 301.77L598.20 302.05L598.80 300.84L599.40 301.12L600.00 300.52L600.60 300.75L601.20 300.16L601.80 300.38L602.40 300.38L603.00 299.94L603.60 298.56L604.20 299.53L604.80 299.03L605.40 298.08L606.00 297.86L606.60 297.98L607.20 297.94L607.80 297.19L608.40 296.35L609.00 296.86L609.60 296.43L610.20 297.04L610.80 294.94L611.40 296.23L612.00 295.45L612.60 294.39L613.20 294.62L613.80 293.58L614.40 293.68L615.00 292.67L615.60 292.87L616.20 292.29L616.80 292.04L617.40 292.73L618.00 292.75L618.60 293.59L619.20 294.25L619.80 294.02L620.40 294.59L621.00 295.15L621.60 294.84L622.20 296.26L622.80 296.70L623.40 297.22L624.00 297.28L624.60 297.39L625.20 298.63L625.80 299.30L626.40 300.12L627.00 300.31L627.60 300.67L628.20 300.36L628.80 300.89L629.40 300.44L630.00 300.97L630.60 301.26L631.20 302.20L631.80 301.24L632.40 300.68L633.00 301.99L633.60 301.12L634.20 301.54L634.80 301.51L635.40 301.30L636.00 302.36L636.60 302.05L637.20 301.52L637.80 301.80L638.40 301.53L639.00 301.93L639.60 301.39L640.20 301.09L640.80 301.01L641.40 300.95L642.00 301.10L642.60 300.38L643.20 300.57L643.80 300.62L644.40 301.27L645.00 300.37L645.60 298.34L646.20 299.09L646.80 298.71L647.40 298.57L648.00 298.64L648.60 297.75L649.20 295.86L649.80 296.53L650.40 295.95L651.00 295.63L651.60 295.65L652.20 294.20L652.80 294.92L653.40 293.49L654.00 294.16L654.60 294.30L655.20 295.22L655.80 293.99L656.40 293.69L657.00 294.95L657.60 294.56L658.20 295.80L658.80 295.04L659.40 295.23L660.00 296.50L660.60 296.38L661.20 297.33L661.80 296.86L662.40 298.89L663.00 298.46L663.60 299.53L664.20 298.95L664.80 298.77L665.40 299.32L666.00 299.43L666.60 299.94L667.20 299.24L667.80 299.23L668.40 299.01L669.00 299.89L669.60 297.88L670.20 298.55L670.80 297.65L671.40 297.56L672.00 296.89L672.60 297.33L673.20 295.85L673.80 295.36L674.40 295.32L675.00 294.25L675.60 294.34L676.20 293.55L676.80 291.55L677.40 290.22L678.00 286.57L678.60 283.27L679.20 279.72L679.80 277.31L680.40 273.39L681.00 270.14L681.60 268.00L682.20 268.03L682.80 267.10L683.40 268.96L684.00 270.93L684.60 272.27L685.20 275.55L685.80 278.70L686.40 281.17L687.00 283.79L687.60 287.71L688.20 290.61L688.80 293.79L689.40 294.49L690.00 296.24L690.60 297.85L691.20 299.05L691.80 300.27L692.40 301.10L693.00 301.54L693.60 301.63L694.20 302.46L694.80 302.39L695.40 302.82L696.00 303.32L696.60 304.04L697.20 304.42L697.80 303.78L698.40 304.58L699.00 304.98L699.60 304.75L700.20 304.17L700.80 304.05L701.40 305.47L702.00 305.60L702.60 305.37L703.20 304.80L703.80 305.94L704.40 305.83L705.00 305.26L705.60 305.17L706.20 304.38L706.80 305.58L707.40 304.50L708.00 305.51L708.60 305.51L709.20 305.21L709.80 305.85L710.40 304.97L711.00 305.36L711.60 305.43L712.20 305.16L712.80 304.83L713.40 305.55L714.00 305.17L714.60 304.87L715.20 304.86L715.80 304.98L716.40 305.94L717.00 304.95L717.60 304.79L718.20 304.41L718.80 304.36L719.40 304.10L720.00 305.13L720.60 305.13L721.20 304.77L721.80 304.69L722.40 305.34L723.00 305.38L723.60 305.14L724.20 305.99L724.80 306.02L725.40 306.00L726.00 306.41L726.60 305.76L727.20 306.60L727.80 305.39L728.40 305.88L729.00 305.68L729.60 304.98L730.20 304.94L730.80 303.86L731.40 303.42L732.00 303.66L732.60 303.10L733.20 303.39L733.80 302.88L734.40 302.93L735.00 302.65L735.60 302.51L736.20 302.44L736.80 302.24L737.40 302.24L738.00 303.41L738.60 301.76L739.20 302.53L739.80 303.13L740.40 302.94L741.00 303.46L741.60 303.14L742.20 302.38L742.80 302.85L743.40 302.41L744.00 303.51L744.60 303.70L745.20 302.74L745.80 302.94L746.40 302.16L747.00 301.25L747.60 301.20L748.20 300.19L748.80 300.17L749.40 300.11L750.00 300.02L750.60 300.06L751.20 299.18L751.80 299.30L752.40 299.26L753.00 299.20L753.60 297.55L754.20 298.38L754.80 298.98L755.40 298.03L756.00 298.55L756.60 298.73L757.20 297.43L757.80 298.13L758.40 298.26L759.00 298.11L759.60 297.37L760.20 298.18L760.80 297.75L761.40 298.36L762.00 298.17L762.60 297.74L763.20 298.10L763.80 297.75L764.40 297.81L765.00 297.50L765.60 298.19L766.20 298.76L766.80 298.55L767.40 298.60L768.00 298.44L768.60 298.60L769.20 299.28L769.80 298.38L770.40 300.08L771.00 299.21L771.60 300.29L772.20 299.91L772.80 299.23L773.40 299.77L774.00 299.53L774.60 299.52L775.20 299.46L775.80 298.59L776.40 298.24L777.00 298.00L777.60 297.26L778.20 297.48L778.80 297.50L779.40 297.41L780.00 297.37L780.60 297.15L781.20 297.77L781.80 296.61L782.40 297.50L783.00 297.70L783.60 298.43L784.20 298.50L784.80 298.74L785.40 298.56L786.00 299.13L786.60 298.38L787.20 298.97L787.80 298.05L788.40 299.79L789.00 299.71L789.60 298.64L790.20 298.41L790.80 297.69L791.40 297.75L792.00 298.28L792.60 297.92L793.20 297.09L793.80 297.29L794.40 296.97L795.00 297.25L795.60 297.14L796.20 296.54L796.80 296.53L797.40 296.35L798.00 295.34L798.60 296.33L799.20 296.24L799.80 296.67L800.40 295.60L801.00 296.90L801.60 296.41L802.20 296.99L802.80 297.59L803.40 296.58L804.00 296.84L804.60 298.07L805.20 297.29L805.80 297.54L806.40 298.39L807.00 298.15L807.60 298.69L808.20 298.54L808.80 298.41L809.40 298.84L810.00 299.31L810.60 298.18L811.20 298.75L811.80 298.43L812.40 297.79L813.00 297.76L813.60 296.94L814.20 296.90L814.80 297.12L815.40 296.82L816.00 297.30L816.60 296.04L817.20 296.43L817.80 296.26L818.40 296.48L819.00 297.08L819.60 296.02L820.20 296.96L820.80 296.33L821.40 296.48L822.00 297.10L822.60 296.55L823.20 297.02L823.80 296.80L824.40 296.71L825.00 296.67L825.60 296.10L826.20 296.60L826.80 297.06L827.40 297.13L828.00 296.42L828.60 297.60L829.20 297.47L829.80 296.69L830.40 296.87L831.00 297.64L831.60 296.68L832.20 297.22L832.80 297.63L833.40 297.73L834.00 297.94L834.60 298.34L835.20 298.04L835.80 298.44L836.40 299.87L837.00 298.61L837.60 299.34L838.20 299.90L838.80 299.87L839.40 301.02L840.00 300.81L840.60 301.40L841.20 300.15L841.80 302.11L842.40 302.32L843.00 301.65L843.60 302.73L844.20 302.37L844.80 302.74L845.40 303.16L846.00 302.40L846.60 301.89L847.20 302.33L847.80 301.75L848.40 301.95L849.00 301.95L849.60 301.95L850.20 302.78L850.80 302.61L851.40 301.80L852.00 302.68L852.60 301.39L853.20 301.81L853.80 302.01L854.40 302.58L855.00 302.33L855.60 302.17L856.20 302.51L856.80 302.21L857.40 302.46L858.00 301.45L858.60 301.00L859.20 301.53L859.80 302.05L860.40 301.76L861.00 302.00L861.60 301.87L862.20 301.74L862.80 301.84L863.40 301.11L864.00 301.88L864.60 300.90L865.20 301.26L865.80 300.63L866.40 301.45L867.00 300.48L867.60 301.77L868.20 300.49L868.80 301.16L869.40 300.94L870.00 300.55L870.60 301.46L871.20 300.66L871.80 301.46L872.40 300.29L873.00 300.33L873.60 299.74L874.20 300.84L874.80 300.95L875.40 300.58L876.00 300.36L876.60 299.96L877.20 301.38L877.80 300.60L878.40 299.38L879.00 300.01L879.60 298.92L880.20 300.75L880.80 300.87L881.40 300.58L882.00 299.84L882.60 299.54L883.20 299.12L883.80 299.93L884.40 299.29L885.00 299.40L885.60 299.22L886.20 299.30L886.80 299.78L887.40 300.08L888.00 299.32L888.60 299.20L889.20 298.62L889.80 298.50L890.40 298.51L891.00 299.32L891.60 298.97L892.20 299.23L892.80 298.91L893.40 298.47L894.00 298.02L894.60 298.37" fill="none" stroke="#ee2b1f" stroke-width="2.2" stroke-linejoin="round"/>
<path d="M84.00 259.80L84.60 257.67L85.20 258.91L85.80 258.33L86.40 258.23L87.00 258.15L87.60 257.13L88.20 257.71L88.80 257.19L89.40 258.81L90.00 257.14L90.60 256.60L91.20 256.33L91.80 255.86L92.40 255.38L93.00 255.36L93.60 255.43L94.20 254.77L94.80 254.94L95.40 254.01L96.00 253.65L96.60 253.81L97.20 252.76L97.80 251.60L98.40 250.94L99.00 250.24L99.60 249.40L100.20 246.38L100.80 243.75L101.40 241.08L102.00 236.39L102.60 232.07L103.20 226.47L103.80 217.34L104.40 205.21L105.00 191.56L105.60 174.29L106.20 158.25L106.80 138.54L107.40 119.13L108.00 101.04L108.60 86.81L109.20 82.49L109.80 89.56L110.40 104.26L111.00 120.96L111.60 139.38L112.20 157.87L112.80 175.55L113.40 191.23L114.00 203.67L114.60 214.50L115.20 223.79L115.80 229.51L116.40 232.97L117.00 235.71L117.60 238.71L118.20 239.54L118.80 242.50L119.40 243.37L120.00 242.77L120.60 243.37L121.20 242.35L121.80 242.32L122.40 240.13L123.00 239.71L123.60 239.63L124.20 239.28L124.80 237.66L125.40 238.89L126.00 240.37L126.60 241.47L127.20 244.13L127.80 244.38L128.40 246.25L129.00 246.51L129.60 248.41L130.20 248.53L130.80 249.08L131.40 249.11L132.00 251.20L132.60 251.23L133.20 251.56L133.80 251.92L134.40 251.60L135.00 251.05L135.60 250.77L136.20 250.48L136.80 251.13L137.40 249.51L138.00 249.57L138.60 249.42L139.20 249.46L139.80 249.46L140.40 248.52L141.00 248.19L141.60 248.85L142.20 249.27L142.80 248.89L143.40 248.42L144.00 247.84L144.60 247.66L145.20 246.85L145.80 246.67L146.40 245.21L147.00 244.84L147.60 243.89L148.20 243.30L148.80 242.19L149.40 242.18L150.00 240.55L150.60 239.27L151.20 236.27L151.80 235.48L152.40 233.64L153.00 232.27L153.60 228.90L154.20 228.03L154.80 225.06L155.40 220.45L156.00 216.38L156.60 211.52L157.20 206.16L157.80 199.44L158.40 190.55L159.00 176.35L159.60 161.01L160.20 144.58L160.80 129.72L161.40 113.92L162.00 101.15L162.60 92.93L163.20 93.20L163.80 97.48L164.40 105.47L165.00 112.96L165.60 120.45L166.20 128.51L166.80 137.56L167.40 146.04L168.00 155.01L168.60 164.58L169.20 174.41L169.80 182.27L170.40 190.99L171.00 198.69L171.60 205.18L172.20 211.15L172.80 215.56L173.40 218.92L174.00 222.39L174.60 225.26L175.20 227.91L175.80 229.55L176.40 232.23L177.00 234.56L177.60 236.14L178.20 238.15L178.80 239.71L179.40 241.48L180.00 243.34L180.60 243.87L181.20 244.84L181.80 245.92L182.40 246.38L183.00 247.34L183.60 246.07L184.20 247.80L184.80 247.55L185.40 248.16L186.00 248.78L186.60 249.18L187.20 249.42L187.80 249.27L188.40 250.17L189.00 249.56L189.60 249.86L190.20 250.52L190.80 250.16L191.40 251.63L192.00 251.37L192.60 252.14L193.20 251.39L193.80 251.45L194.40 251.91L195.00 252.36L195.60 251.94L196.20 252.52L196.80 252.45L197.40 253.27L198.00 252.28L198.60 253.06L199.20 252.29L199.80 252.11L200.40 252.18L201.00 251.90L201.60 252.43L202.20 252.74L202.80 252.26L203.40 252.36L204.00 252.70L204.60 251.97L205.20 251.81L205.80 251.47L206.40 250.74L207.00 251.68L207.60 250.41L208.20 251.37L208.80 250.94L209.40 251.32L210.00 250.66L210.60 250.21L211.20 250.62L211.80 250.09L212.40 250.14L213.00 250.10L213.60 249.89L214.20 249.72L214.80 249.29L215.40 249.43L216.00 248.40L216.60 249.14L217.20 248.53L217.80 249.43L218.40 249.36L219.00 247.77L219.60 248.59L220.20 248.34L220.80 247.82L221.40 248.42L222.00 247.89L222.60 247.22L223.20 247.83L223.80 247.83L224.40 247.90L225.00 247.26L225.60 248.06L226.20 248.08L226.80 247.21L227.40 247.41L228.00 247.65L228.60 247.41L229.20 248.44L229.80 247.73L230.40 247.16L231.00 247.24L231.60 247.55L232.20 248.59L232.80 247.45L233.40 247.56L234.00 247.71L234.60 247.42L235.20 248.42L235.80 247.11L236.40 247.62L237.00 247.27L237.60 247.35L238.20 246.36L238.80 247.45L239.40 246.32L240.00 246.07L240.60 245.26L241.20 244.95L241.80 245.08L242.40 244.77L243.00 244.14L243.60 243.78L244.20 242.94L244.80 241.94L245.40 241.43L246.00 240.14L246.60 238.36L247.20 236.99L247.80 235.27L248.40 232.62L249.00 230.02L249.60 228.04L250.20 226.02L250.80 222.42L251.40 219.61L252.00 216.25L252.60 213.03L253.20 207.58L253.80 204.57L254.40 201.34L255.00 197.36L255.60 195.71L256.20 192.88L256.80 190.58L257.40 190.11L258.00 189.85L258.60 192.10L259.20 195.97L259.80 198.12L260.40 203.00L261.00 206.12L261.60 211.28L262.20 216.09L262.80 220.30L263.40 225.64L264.00 229.60L264.60 231.88L265.20 234.31L265.80 237.34L266.40 238.86L267.00 240.05L267.60 241.84L268.20 243.56L268.80 243.78L269.40 245.14L270.00 246.07L270.60 245.99L271.20 246.01L271.80 246.40L272.40 247.39L273.00 248.15L273.60 248.17L274.20 248.53L274.80 248.28L275.40 248.77L276.00 248.55L276.60 248.74L277.20 248.41L277.80 248.37L278.40 248.95L279.00 248.74L279.60 248.88L280.20 249.69L280.80 249.41L281.40 250.85L282.00 250.04L282.60 249.44L283.20 250.19L283.80 250.13L284.40 249.82L285.00 250.84L285.60 250.24L286.20 249.48L286.80 251.45L287.40 251.02L288.00 252.10L288.60 251.19L289.20 250.96L289.80 252.19L290.40 251.00L291.00 251.56L291.60 252.11L292.20 251.50L292.80 251.39L293.40 251.45L294.00 251.76L294.60 250.99L295.20 251.60L295.80 251.56L296.40 252.32L297.00 251.08L297.60 250.79L298.20 251.49L298.80 250.94L299.40 251.21L300.00 251.10L300.60 251.52L301.20 250.66L301.80 250.86L302.40 249.71L303.00 250.39L303.60 251.41L304.20 250.33L304.80 250.23L305.40 249.90L306.00 250.59L306.60 250.29L307.20 249.54L307.80 250.23L308.40 249.90L309.00 249.96L309.60 249.15L310.20 250.04L310.80 249.25L311.40 248.81L312.00 248.38L312.60 248.20L313.20 248.31L313.80 247.37L314.40 247.49L315.00 246.74L315.60 246.54L316.20 245.74L316.80 244.78L317.40 243.40L318.00 243.87L318.60 243.59L319.20 242.84L319.80 242.52L320.40 241.54L321.00 241.04L321.60 240.24L322.20 240.72L322.80 239.65L323.40 238.84L324.00 237.99L324.60 238.09L325.20 238.44L325.80 237.70L326.40 236.96L327.00 237.81L327.60 237.80L328.20 237.74L328.80 237.92L329.40 238.48L330.00 238.68L330.60 239.33L331.20 239.21L331.80 240.83L332.40 240.84L333.00 242.19L333.60 240.85L334.20 242.58L334.80 243.20L335.40 243.12L336.00 244.02L336.60 244.69L337.20 245.16L337.80 245.19L338.40 245.90L339.00 246.93L339.60 247.53L340.20 247.45L340.80 247.86L341.40 248.29L342.00 248.98L342.60 248.30L343.20 248.39L343.80 249.22L344.40 248.82L345.00 249.21L345.60 249.65L346.20 249.95L346.80 249.35L347.40 250.28L348.00 249.17L348.60 250.21L349.20 249.17L349.80 249.09L350.40 249.63L351.00 248.75L351.60 248.13L352.20 247.86L352.80 247.90L353.40 247.38L354.00 247.24L354.60 247.68L355.20 246.88L355.80 246.99L356.40 246.96L357.00 247.73L357.60 247.65L358.20 247.78L358.80 247.18L359.40 247.13L360.00 247.58L360.60 247.02L361.20 247.57L361.80 247.53L362.40 246.89L363.00 247.16L363.60 247.15L364.20 247.98L364.80 248.36L365.40 247.16L366.00 247.21L366.60 246.17L367.20 247.29L367.80 247.17L368.40 246.63L369.00 247.37L369.60 246.16L370.20 246.59L370.80 246.55L371.40 245.72L372.00 246.44L372.60 246.32L373.20 245.02L373.80 244.83L374.40 245.58L375.00 245.18L375.60 244.59L376.20 244.98L376.80 245.09L377.40 245.13L378.00 245.64L378.60 245.54L379.20 246.27L379.80 246.20L380.40 245.99L381.00 246.27L381.60 246.47L382.20 246.25L382.80 245.43L383.40 246.38L384.00 246.03L384.60 246.71L385.20 246.01L385.80 246.18L386.40 246.07L387.00 246.64L387.60 245.93L388.20 245.68L388.80 245.90L389.40 245.51L390.00 245.72L390.60 245.59L391.20 245.65L391.80 246.33L392.40 245.21L393.00 245.33L393.60 245.15L394.20 245.46L394.80 244.54L395.40 244.68L396.00 244.89L396.60 245.06L397.20 244.69L397.80 244.37L398.40 244.07L399.00 244.54L399.60 244.79L400.20 244.10L400.80 243.83L401.40 243.71L402.00 242.84L402.60 242.86L403.20 242.59L403.80 242.52L404.40 241.99L405.00 240.98L405.60 241.45L406.20 241.03L406.80 239.43L407.40 238.97L408.00 238.14L408.60 237.63L409.20 235.90L409.80 236.62L410.40 235.04L411.00 235.15L411.60 233.92L412.20 232.95L412.80 232.20L413.40 231.66L414.00 229.57L414.60 228.07L415.20 225.98L415.80 223.34L416.40 222.84L417.00 220.99L417.60 219.41L418.20 218.75L418.80 216.78L419.40 216.46L420.00 216.94L420.60 216.67L421.20 215.64L421.80 215.80L422.40 217.68L423.00 219.61L423.60 220.00L424.20 221.32L424.80 223.22L425.40 224.42L426.00 226.99L426.60 229.28L427.20 230.91L427.80 232.27L428.40 232.96L429.00 234.49L429.60 235.00L430.20 236.60L430.80 237.83L431.40 236.82L432.00 236.48L432.60 237.44L433.20 237.94L433.80 238.36L434.40 238.48L435.00 237.73L435.60 237.80L436.20 238.78L436.80 237.76L437.40 238.77L438.00 238.18L438.60 238.58L439.20 238.43L439.80 238.26L440.40 238.01L441.00 236.87L441.60 237.07L442.20 236.54L442.80 236.25L443.40 236.24L444.00 235.14L444.60 234.53L445.20 234.14L445.80 233.94L446.40 234.02L447.00 232.89L447.60 233.34L448.20 232.50L448.80 231.82L449.40 230.88L450.00 231.17L450.60 230.97L451.20 229.50L451.80 230.51L452.40 230.43L453.00 229.60L453.60 229.44L454.20 230.08L454.80 229.33L455.40 228.18L456.00 228.41L456.60 228.20L457.20 228.11L457.80 227.06L458.40 228.47L459.00 227.92L459.60 228.41L460.20 228.47L460.80 229.16L461.40 228.90L462.00 228.98L462.60 229.89L463.20 230.62L463.80 230.20L464.40 231.39L465.00 231.40L465.60 231.63L466.20 233.20L466.80 232.82L467.40 234.33L468.00 234.33L468.60 235.41L469.20 235.26L469.80 236.00L470.40 237.39L471.00 237.52L471.60 237.97L472.20 238.28L472.80 239.19L473.40 238.87L474.00 239.50L474.60 240.42L475.20 240.59L475.80 241.10L476.40 241.83L477.00 242.22L477.60 242.58L478.20 243.80L478.80 243.85L479.40 244.26L480.00 243.98L480.60 244.03L481.20 243.85L481.80 244.57L482.40 244.01L483.00 244.90L483.60 245.70L484.20 246.28L484.80 246.17L485.40 245.52L486.00 246.30L486.60 245.89L487.20 246.78L487.80 246.52L488.40 247.12L489.00 248.05L489.60 247.47L490.20 248.27L490.80 247.47L491.40 247.41L492.00 248.34L492.60 248.71L493.20 247.89L493.80 248.39L494.40 247.93L495.00 248.72L495.60 249.46L496.20 249.26L496.80 249.29L497.40 249.15L498.00 250.18L498.60 250.60L499.20 250.73L499.80 250.78L500.40 250.28L501.00 251.81L501.60 251.14L502.20 251.22L502.80 251.71L503.40 250.48L504.00 251.46L504.60 251.43L505.20 251.64L505.80 252.03L506.40 251.58L507.00 250.46L507.60 251.04L508.20 251.18L508.80 251.03L509.40 250.25L510.00 249.94L510.60 250.78L511.20 250.53L511.80 250.21L512.40 249.27L513.00 250.68L513.60 248.41L514.20 249.37L514.80 250.29L515.40 249.06L516.00 249.00L516.60 248.11L517.20 248.98L517.80 247.49L518.40 247.89L519.00 247.52L519.60 246.66L520.20 247.20L520.80 245.83L521.40 245.83L522.00 245.78L522.60 245.27L523.20 245.34L523.80 245.21L524.40 244.31L525.00 243.82L525.60 243.43L526.20 243.09L526.80 243.19L527.40 242.31L528.00 242.19L528.60 241.58L529.20 240.90L529.80 241.37L530.40 240.26L531.00 240.54L531.60 241.06L532.20 239.76L532.80 240.11L533.40 239.30L534.00 239.67L534.60 239.13L535.20 239.55L535.80 239.40L536.40 239.64L537.00 240.25L537.60 239.65L538.20 239.87L538.80 239.76L539.40 240.11L540.00 240.46L540.60 240.77L541.20 242.41L541.80 243.92L542.40 244.15L543.00 244.34L543.60 245.86L544.20 245.42L544.80 245.82L545.40 246.03L546.00 246.60L546.60 247.38L547.20 248.83L547.80 248.26L548.40 248.30L549.00 248.88L549.60 249.43L550.20 249.11L550.80 250.27L551.40 250.84L552.00 250.95L552.60 251.34L553.20 250.74L553.80 250.79L554.40 252.37L555.00 252.51L555.60 251.56L556.20 252.57L556.80 252.71L557.40 253.16L558.00 253.21L558.60 253.09L559.20 253.59L559.80 253.75L560.40 253.82L561.00 253.15L561.60 252.77L562.20 253.87L562.80 253.59L563.40 254.51L564.00 254.77L564.60 254.60L565.20 254.33L565.80 254.53L566.40 255.03L567.00 254.17L567.60 254.92L568.20 254.82L568.80 254.62L569.40 255.15L570.00 254.18L570.60 254.92L571.20 254.08L571.80 254.15L572.40 254.02L573.00 254.70L573.60 254.08L574.20 254.51L574.80 253.96L575.40 254.92L576.00 255.23L576.60 254.46L577.20 255.04L577.80 254.49L578.40 255.14L579.00 254.13L579.60 253.29L580.20 254.58L580.80 253.76L581.40 253.25L582.00 253.32L582.60 252.78L583.20 253.33L583.80 252.82L584.40 253.86L585.00 253.39L585.60 252.24L586.20 252.20L586.80 252.53L587.40 251.82L588.00 252.55L588.60 252.49L589.20 252.08L589.80 252.11L590.40 252.50L591.00 252.85L591.60 252.81L592.20 252.09L592.80 252.39L593.40 251.61L594.00 252.06L594.60 251.38L595.20 252.08L595.80 251.13L596.40 251.18L597.00 251.54L597.60 251.73L598.20 250.75L598.80 251.08L599.40 251.30L600.00 251.26L600.60 250.68L601.20 251.01L601.80 250.74L602.40 251.39L603.00 250.89L603.60 249.92L604.20 249.39L604.80 250.29L605.40 250.63L606.00 250.01L606.60 250.16L607.20 249.36L607.80 248.77L608.40 249.51L609.00 248.97L609.60 248.91L610.20 247.55L610.80 247.78L611.40 246.92L612.00 247.11L612.60 246.11L613.20 245.86L613.80 245.78L614.40 246.64L615.00 246.18L615.60 245.99L616.20 246.08L616.80 246.31L617.40 247.72L618.00 246.55L618.60 247.30L619.20 248.31L619.80 248.89L620.40 248.62L621.00 249.36L621.60 249.65L622.20 250.04L622.80 249.91L623.40 250.95L624.00 250.63L624.60 251.58L625.20 250.76L625.80 252.04L626.40 251.42L627.00 251.66L627.60 252.90L628.20 252.62L628.80 253.49L629.40 253.06L630.00 254.48L630.60 253.93L631.20 253.53L631.80 254.18L632.40 254.51L633.00 253.77L633.60 254.34L634.20 255.03L634.80 254.49L635.40 254.08L636.00 253.82L636.60 254.32L637.20 253.36L637.80 252.66L638.40 253.71L639.00 253.50L639.60 254.75L640.20 254.00L640.80 253.45L641.40 253.28L642.00 253.91L642.60 253.14L643.20 253.06L643.80 253.05L644.40 252.90L645.00 252.65L645.60 252.41L646.20 252.70L646.80 252.65L647.40 250.92L648.00 252.63L648.60 251.33L649.20 251.62L649.80 250.51L650.40 250.77L651.00 250.50L651.60 250.24L652.20 250.37L652.80 250.09L653.40 249.20L654.00 249.47L654.60 249.75L655.20 249.68L655.80 249.22L656.40 249.34L657.00 249.59L657.60 249.46L658.20 249.73L658.80 251.42L659.40 250.96L660.00 251.59L660.60 251.60L661.20 252.86L661.80 253.32L662.40 252.61L663.00 253.07L663.60 252.60L664.20 253.83L664.80 253.54L665.40 252.82L666.00 253.83L666.60 253.49L667.20 253.56L667.80 253.57L668.40 253.12L669.00 253.17L669.60 253.62L670.20 253.19L670.80 252.59L671.40 253.70L672.00 252.41L672.60 251.94L673.20 251.53L673.80 251.72L674.40 251.29L675.00 250.27L675.60 249.71L676.20 247.63L676.80 246.80L677.40 244.76L678.00 242.33L678.60 239.77L679.20 236.12L679.80 236.12L680.40 232.20L681.00 231.14L681.60 230.57L682.20 230.70L682.80 231.25L683.40 231.13L684.00 233.54L684.60 236.18L685.20 237.58L685.80 240.22L686.40 242.66L687.00 247.13L687.60 249.12L688.20 250.21L688.80 251.96L689.40 253.21L690.00 253.81L690.60 255.03L691.20 255.91L691.80 256.52L692.40 257.23L693.00 257.02L693.60 257.12L694.20 257.77L694.80 257.52L695.40 257.40L696.00 258.58L696.60 257.93L697.20 258.16L697.80 258.40L698.40 257.61L699.00 258.40L699.60 258.31L700.20 258.06L700.80 258.29L701.40 257.77L702.00 257.12L702.60 257.98L703.20 257.70L703.80 258.50L704.40 258.25L705.00 257.92L705.60 258.24L706.20 258.90L706.80 258.88L707.40 258.63L708.00 258.77L708.60 258.56L709.20 258.74L709.80 259.18L710.40 258.97L711.00 259.26L711.60 258.73L712.20 258.56L712.80 258.62L713.40 259.25L714.00 260.08L714.60 260.03L715.20 259.06L715.80 258.80L716.40 259.85L717.00 259.68L717.60 258.84L718.20 259.92L718.80 259.50L719.40 259.99L720.00 259.52L720.60 259.73L721.20 259.44L721.80 258.84L722.40 259.12L723.00 258.88L723.60 259.52L724.20 258.66L724.80 258.37L725.40 259.33L726.00 259.48L726.60 259.54L727.20 259.29L727.80 258.01L728.40 258.25L729.00 258.18L729.60 258.27L730.20 257.16L730.80 257.98L731.40 257.95L732.00 257.25L732.60 257.60L733.20 257.95L733.80 257.32L734.40 257.67L735.00 257.57L735.60 257.24L736.20 257.19L736.80 256.84L737.40 257.57L738.00 256.81L738.60 256.73L739.20 257.38L739.80 256.76L740.40 257.31L741.00 257.62L741.60 257.22L742.20 257.26L742.80 257.66L743.40 257.62L744.00 256.61L744.60 256.74L745.20 257.96L745.80 257.55L746.40 256.46L747.00 256.79L747.60 257.34L748.20 256.65L748.80 256.84L749.40 256.01L750.00 255.45L750.60 253.93L751.20 254.03L751.80 254.07L752.40 252.48L753.00 253.25L753.60 252.99L754.20 252.75L754.80 252.35L755.40 251.79L756.00 251.85L756.60 252.52L757.20 252.57L757.80 252.63L758.40 252.47L759.00 252.40L759.60 251.77L760.20 251.40L760.80 252.02L761.40 252.14L762.00 251.95L762.60 251.24L763.20 251.71L763.80 251.30L764.40 252.07L765.00 251.58L765.60 252.02L766.20 252.29L766.80 252.26L767.40 252.85L768.00 251.77L768.60 251.31L769.20 252.73L769.80 252.93L770.40 252.93L771.00 252.39L771.60 252.47L772.20 252.23L772.80 251.53L773.40 251.80L774.00 252.21L774.60 251.65L775.20 252.69L775.80 251.05L776.40 251.47L777.00 252.08L777.60 251.23L778.20 250.91L778.80 250.74L779.40 250.95L780.00 251.89L780.60 251.34L781.20 251.33L781.80 250.80L782.40 251.35L783.00 250.96L783.60 250.44L784.20 250.59L784.80 250.83L785.40 251.21L786.00 250.60L786.60 250.80L787.20 251.43L787.80 250.11L788.40 249.86L789.00 250.80L789.60 250.50L790.20 250.20L790.80 250.30L791.40 249.98L792.00 250.30L792.60 249.87L793.20 250.33L793.80 249.40L794.40 249.52L795.00 249.91L795.60 249.63L796.20 250.14L796.80 249.83L797.40 249.72L798.00 250.30L798.60 250.31L799.20 250.26L799.80 250.87L800.40 251.40L801.00 251.85L801.60 252.28L802.20 252.68L802.80 252.43L803.40 252.83L804.00 252.38L804.60 251.45L805.20 251.99L805.80 251.48L806.40 250.45L807.00 250.52L807.60 250.64L808.20 250.08L808.80 250.33L809.40 250.02L810.00 250.20L810.60 249.82L811.20 250.26L811.80 250.07L812.40 250.70L813.00 249.80L813.60 250.88L814.20 251.45L814.80 251.28L815.40 251.11L816.00 251.43L816.60 250.79L817.20 250.69L817.80 250.68L818.40 250.51L819.00 250.75L819.60 249.73L820.20 250.50L820.80 249.32L821.40 249.68L822.00 250.04L822.60 250.60L823.20 249.83L823.80 249.18L824.40 250.38L825.00 250.22L825.60 249.80L826.20 249.88L826.80 250.10L827.40 250.53L828.00 250.87L828.60 249.98L829.20 251.77L829.80 250.81L830.40 250.76L831.00 251.33L831.60 251.19L832.20 252.30L832.80 251.87L833.40 251.33L834.00 251.47L834.60 251.63L835.20 252.00L835.80 252.82L836.40 252.64L837.00 254.06L837.60 253.67L838.20 253.95L838.80 254.68L839.40 253.56L840.00 254.22L840.60 255.07L841.20 254.97L841.80 255.10L842.40 255.43L843.00 255.12L843.60 255.45L844.20 255.05L844.80 254.97L845.40 256.54L846.00 255.72L846.60 256.02L847.20 257.18L847.80 257.25L848.40 256.76L849.00 256.99L849.60 257.40L850.20 257.20L850.80 258.05L851.40 258.01L852.00 258.10L852.60 258.42L853.20 258.37L853.80 258.71L854.40 258.29L855.00 256.51L855.60 257.34L856.20 256.13L856.80 255.79L857.40 256.68L858.00 256.07L858.60 256.34L859.20 257.11L859.80 256.52L860.40 256.62L861.00 257.38L861.60 258.00L862.20 257.89L862.80 257.13L863.40 257.68L864.00 257.99L864.60 258.97L865.20 258.50L865.80 258.45L866.40 258.55L867.00 257.80L867.60 258.07L868.20 257.97L868.80 257.20L869.40 257.51L870.00 257.64L870.60 256.76L871.20 257.47L871.80 257.31L872.40 257.29L873.00 256.34L873.60 256.61L874.20 257.09L874.80 256.67L875.40 255.84L876.00 256.18L876.60 256.59L877.20 255.78L877.80 255.85L878.40 256.71L879.00 255.41L879.60 255.25L880.20 254.74L880.80 254.79L881.40 255.67L882.00 254.87L882.60 254.33L883.20 254.39L883.80 254.76L884.40 255.04L885.00 254.31L885.60 254.91L886.20 254.32L886.80 254.65L887.40 254.68L888.00 254.67L888.60 254.16L889.20 254.24L889.80 254.51L890.40 253.66L891.00 254.29L891.60 254.42L892.20 254.63L892.80 254.13L893.40 254.04L894.00 254.18L894.60 253.78L895.20 254.01" fill="none" stroke="#f0892c" stroke-width="2.2" stroke-linejoin="round"/>
<rect x="84.3" y="43.6" width="816.00" height="375.10" fill="none" stroke="#1a1a1a" stroke-width="2.0"/>
<line x1="74.3" y1="74.86" x2="84.3" y2="74.86" stroke="#1a1a1a" stroke-width="2.0"/>
<line x1="74.3" y1="137.38" x2="84.3" y2="137.38" stroke="#1a1a1a" stroke-width="2.0"/>
<line x1="74.3" y1="199.89" x2="84.3" y2="199.89" stroke="#1a1a1a" stroke-width="2.0"/>
<line x1="74.3" y1="262.41" x2="84.3" y2="262.41" stroke="#1a1a1a" stroke-width="2.0"/>
<line x1="74.3" y1="324.93" x2="84.3" y2="324.93" stroke="#1a1a1a" stroke-width="2.0"/>
<line x1="74.3" y1="387.44" x2="84.3" y2="387.44" stroke="#1a1a1a" stroke-width="2.0"/>
<line x1="79.3" y1="43.60" x2="84.3" y2="43.60" stroke="#1a1a1a" stroke-width="2.0"/>
<line x1="79.3" y1="106.12" x2="84.3" y2="106.12" stroke="#1a1a1a" stroke-width="2.0"/>
<line x1="79.3" y1="168.63" x2="84.3" y2="168.63" stroke="#1a1a1a" stroke-width="2.0"/>
<line x1="79.3" y1="231.15" x2="84.3" y2="231.15" stroke="#1a1a1a" stroke-width="2.0"/>
<line x1="79.3" y1="293.67" x2="84.3" y2="293.67" stroke="#1a1a1a" stroke-width="2.0"/>
<line x1="79.3" y1="356.18" x2="84.3" y2="356.18" stroke="#1a1a1a" stroke-width="2.0"/>
<line x1="79.3" y1="418.70" x2="84.3" y2="418.70" stroke="#1a1a1a" stroke-width="2.0"/>
<line x1="84.30" y1="418.7" x2="84.30" y2="428.2" stroke="#1a1a1a" stroke-width="2.0"/>
<line x1="165.90" y1="418.7" x2="165.90" y2="428.2" stroke="#1a1a1a" stroke-width="2.0"/>
<line x1="247.50" y1="418.7" x2="247.50" y2="428.2" stroke="#1a1a1a" stroke-width="2.0"/>
<line x1="329.10" y1="418.7" x2="329.10" y2="428.2" stroke="#1a1a1a" stroke-width="2.0"/>
<line x1="410.70" y1="418.7" x2="410.70" y2="428.2" stroke="#1a1a1a" stroke-width="2.0"/>
<line x1="492.30" y1="418.7" x2="492.30" y2="428.2" stroke="#1a1a1a" stroke-width="2.0"/>
<line x1="573.90" y1="418.7" x2="573.90" y2="428.2" stroke="#1a1a1a" stroke-width="2.0"/>
<line x1="655.50" y1="418.7" x2="655.50" y2="428.2" stroke="#1a1a1a" stroke-width="2.0"/>
<line x1="737.10" y1="418.7" x2="737.10" y2="428.2" stroke="#1a1a1a" stroke-width="2.0"/>
<line x1="818.70" y1="418.7" x2="818.70" y2="428.2" stroke="#1a1a1a" stroke-width="2.0"/>
<line x1="900.30" y1="418.7" x2="900.30" y2="428.2" stroke="#1a1a1a" stroke-width="2.0"/>
<line x1="125.10" y1="418.7" x2="125.10" y2="423.7" stroke="#1a1a1a" stroke-width="2.0"/>
<line x1="206.70" y1="418.7" x2="206.70" y2="423.7" stroke="#1a1a1a" stroke-width="2.0"/>
<line x1="288.30" y1="418.7" x2="288.30" y2="423.7" stroke="#1a1a1a" stroke-width="2.0"/>
<line x1="369.90" y1="418.7" x2="369.90" y2="423.7" stroke="#1a1a1a" stroke-width="2.0"/>
<line x1="451.50" y1="418.7" x2="451.50" y2="423.7" stroke="#1a1a1a" stroke-width="2.0"/>
<line x1="533.10" y1="418.7" x2="533.10" y2="423.7" stroke="#1a1a1a" stroke-width="2.0"/>
<line x1="614.70" y1="418.7" x2="614.70" y2="423.7" stroke="#1a1a1a" stroke-width="2.0"/>
<line x1="696.30" y1="418.7" x2="696.30" y2="423.7" stroke="#1a1a1a" stroke-width="2.0"/>
<line x1="777.90" y1="418.7" x2="777.90" y2="423.7" stroke="#1a1a1a" stroke-width="2.0"/>
<line x1="859.50" y1="418.7" x2="859.50" y2="423.7" stroke="#1a1a1a" stroke-width="2.0"/>
<text x="84.30" y="450.20" font-size="20" text-anchor="middle" >200</text>
<text x="165.90" y="450.20" font-size="20" text-anchor="middle" >300</text>
<text x="247.50" y="450.20" font-size="20" text-anchor="middle" >400</text>
<text x="329.10" y="450.20" font-size="20" text-anchor="middle" >500</text>
<text x="410.70" y="450.20" font-size="20" text-anchor="middle" >600</text>
<text x="492.30" y="450.20" font-size="20" text-anchor="middle" >700</text>
<text x="573.90" y="450.20" font-size="20" text-anchor="middle" >800</text>
<text x="655.50" y="450.20" font-size="20" text-anchor="middle" >900</text>
<text x="737.10" y="450.20" font-size="20" text-anchor="middle" >1000</text>
<text x="818.70" y="450.20" font-size="20" text-anchor="middle" >1100</text>
<text x="900.30" y="450.20" font-size="20" text-anchor="middle" >1200</text>
<text x="422.40" y="502.40" font-size="24" text-anchor="start" >Raman Shift / cm<tspan font-size="14" dy="-12">-1</tspan></text>
<text x="0.00" y="0.00" font-size="24" text-anchor="start" transform="translate(19,358.1) rotate(-90)">Absorbance / (arb. units)</text>
<text x="16.80" y="26.80" font-size="35.5" text-anchor="start" stroke="#fff" stroke-width="0.4">a)</text>
<rect x="719" y="54.1" width="148.2" height="113.4" fill="#fff" stroke="#7a7a7a" stroke-width="1.4"/>
<line x1="726.2" y1="72.4" x2="776.8" y2="72.4" stroke="#333" stroke-width="1.7"/>
<line x1="726.2" y1="108.4" x2="776.8" y2="108.4" stroke="#c0504d" stroke-width="1.7"/>
<line x1="726.2" y1="144.5" x2="776.8" y2="144.5" stroke="#ec8b2e" stroke-width="1.7"/>
<text x="782.80" y="80.60" font-size="21" text-anchor="start" >Fe<tspan font-size="13.5" dy="7.5">3</tspan><tspan dy="-7.5">O</tspan><tspan font-size="13.5" dy="7.5">4</tspan></text>
<text x="782.60" y="117.10" font-size="21" text-anchor="start" ><tspan font-family="DejaVu Serif, serif">γ</tspan><tspan dx="-2.4">-</tspan>Fe<tspan font-size="13.5" dy="7.5">2</tspan><tspan dy="-7.5">O</tspan><tspan font-size="13.5" dy="7.5">3</tspan></text>
<text x="783.00" y="153.10" font-size="21" text-anchor="start" ><tspan font-family="DejaVu Serif, serif">α</tspan>-Fe<tspan font-size="13.5" dy="7.5">2</tspan><tspan dy="-7.5">O</tspan><tspan font-size="13.5" dy="7.5">3</tspan></text>
<line x1="166.08" y1="554.8" x2="166.08" y2="895.9" stroke="#d0d0d0" stroke-width="1.0" stroke-dasharray="4.5 3.5"/>
<line x1="248.16" y1="554.8" x2="248.16" y2="895.9" stroke="#d0d0d0" stroke-width="1.0" stroke-dasharray="4.5 3.5"/>
<line x1="330.24" y1="554.8" x2="330.24" y2="895.9" stroke="#d0d0d0" stroke-width="1.0" stroke-dasharray="4.5 3.5"/>
<line x1="412.32" y1="554.8" x2="412.32" y2="895.9" stroke="#d0d0d0" stroke-width="1.0" stroke-dasharray="4.5 3.5"/>
<line x1="494.40" y1="554.8" x2="494.40" y2="895.9" stroke="#d0d0d0" stroke-width="1.0" stroke-dasharray="4.5 3.5"/>
<line x1="576.48" y1="554.8" x2="576.48" y2="895.9" stroke="#d0d0d0" stroke-width="1.0" stroke-dasharray="4.5 3.5"/>
<line x1="658.56" y1="554.8" x2="658.56" y2="895.9" stroke="#d0d0d0" stroke-width="1.0" stroke-dasharray="4.5 3.5"/>
<line x1="740.64" y1="554.8" x2="740.64" y2="895.9" stroke="#d0d0d0" stroke-width="1.0" stroke-dasharray="4.5 3.5"/>
<line x1="822.72" y1="554.8" x2="822.72" y2="895.9" stroke="#d0d0d0" stroke-width="1.0" stroke-dasharray="4.5 3.5"/>
<line x1="84.0" y1="725.35" x2="904.8" y2="725.35" stroke="#d0d0d0" stroke-width="1.0" stroke-dasharray="4.5 3.5" stroke-dashoffset="-3.6"/>
<path d="M84.00 795.80L85.30 794.47L86.60 794.74L87.90 793.71L89.20 790.48L90.50 782.71L91.80 774.30L93.10 766.03L94.40 758.96L95.70 748.16L97.00 728.25L98.30 698.26L99.60 674.35L100.90 659.60L102.20 647.56L103.50 648.68L104.80 664.52L106.10 689.14L107.40 713.35L108.70 728.40L110.00 738.45L111.30 747.26L112.60 751.65L113.90 755.31L115.20 761.07L116.50 765.40L117.80 764.19L119.10 767.41L120.40 766.99L121.70 768.83L123.00 768.17L124.30 772.12L125.60 774.09L126.90 774.54L128.20 772.68L129.50 772.04L130.80 769.06L132.10 766.24L133.40 765.46L134.70 760.04L136.00 759.81L137.30 755.09L138.60 746.50L139.90 744.85L141.20 737.09L142.50 732.16L143.80 724.27L145.10 710.61L146.40 700.86L147.70 687.98L149.00 675.30L150.30 662.14L151.60 657.69L152.90 649.62L154.20 649.16L155.50 651.00L156.80 659.56L158.10 663.98L159.40 673.42L160.70 678.77L162.00 687.69L163.30 697.14L164.60 705.17L165.90 716.74L167.20 731.04L168.50 739.32L169.80 747.87L171.10 754.20L172.40 760.78L173.70 763.74L175.00 767.18L176.30 770.25L177.60 772.11L178.90 772.43L180.20 776.67L181.50 774.93L182.80 776.61L184.10 777.95L185.40 782.68L186.70 781.94L188.00 782.15L189.30 782.90L190.60 786.27L191.90 785.02L193.20 785.38L194.50 788.41L195.80 785.11L197.10 785.31L198.40 784.66L199.70 783.36L201.00 783.94L202.30 786.08L203.60 783.38L204.90 782.35L206.20 781.53L207.50 783.98L208.80 783.59L210.10 784.19L211.40 782.63L212.70 782.02L214.00 780.98L215.30 780.53L216.60 780.76L217.90 779.13L219.20 778.87L220.50 780.30L221.80 776.68L223.10 771.98L224.40 775.25L225.70 771.46L227.00 767.75L228.30 768.65L229.60 765.33L230.90 762.27L232.20 759.99L233.50 757.06L234.80 756.02L236.10 754.31L237.40 748.55L238.70 745.95L240.00 744.74L241.30 737.41L242.60 737.47L243.90 734.75L245.20 732.81L246.50 733.14L247.80 735.41L249.10 737.17L250.40 737.35L251.70 741.61L253.00 746.95L254.30 750.55L255.60 755.67L256.90 759.71L258.20 764.43L259.50 770.82L260.80 772.73L262.10 774.81L263.40 778.16L264.70 777.96L266.00 780.79L267.30 784.13L268.60 785.16L269.90 787.52L271.20 786.03L272.50 784.53L273.80 790.27L275.10 789.58L276.40 786.95L277.70 791.26L279.00 789.94L280.30 787.84L281.60 790.52L282.90 790.86L284.20 794.31L285.50 790.81L286.80 791.57L288.10 791.44L289.40 791.17L290.70 790.24L292.00 791.82L293.30 793.04L294.60 792.34L295.90 790.01L297.20 789.68L298.50 791.58L299.80 790.34L301.10 790.45L302.40 788.88L303.70 794.32L305.00 792.57L306.30 789.31L307.60 791.55L308.90 791.52L310.20 785.21L311.50 787.29L312.80 786.93L314.10 787.83L315.40 785.93L316.70 785.04L318.00 784.69L319.30 787.17L320.60 787.55L321.90 783.66L323.20 783.37L324.50 789.25L325.80 784.32L327.10 785.63L328.40 787.62L329.70 791.12L331.00 795.07L332.30 795.59L333.60 793.63L334.90 795.56L336.20 795.02L337.50 797.34L338.80 794.50L340.10 792.89L341.40 794.04L342.70 798.73L344.00 796.79L345.30 795.47L346.60 798.62L347.90 800.10L349.20 802.09L350.50 798.82L351.80 801.36L353.10 801.57L354.40 799.34L355.70 800.12L357.00 803.07L358.30 803.01L359.60 801.74L360.90 800.99L362.20 802.30L363.50 800.64L364.80 801.01L366.10 800.11L367.40 801.51L368.70 801.38L370.00 805.66L371.30 801.21L372.60 803.41L373.90 803.48L375.20 801.22L376.50 803.25L377.80 797.86L379.10 800.36L380.40 800.23L381.70 793.89L383.00 794.26L384.30 796.25L385.60 793.25L386.90 791.28L388.20 791.79L389.50 790.95L390.80 792.10L392.10 790.55L393.40 787.32L394.70 784.05L396.00 782.39L397.30 782.09L398.60 778.20L399.90 776.57L401.20 774.03L402.50 771.33L403.80 771.39L405.10 772.74L406.40 771.26L407.70 769.04L409.00 767.21L410.30 769.23L411.60 768.43L412.90 769.39L414.20 771.00L415.50 773.22L416.80 773.69L418.10 774.89L419.40 775.06L420.70 776.14L422.00 778.16L423.30 779.03L424.60 779.41L425.90 779.88L427.20 778.18L428.50 778.97L429.80 779.48L431.10 776.25L432.40 774.53L433.70 778.72L435.00 776.67L436.30 777.36L437.60 773.84L438.90 777.69L440.20 775.22L441.50 772.86L442.80 771.52L444.10 771.31L445.40 769.87L446.70 768.67L448.00 766.47L449.30 769.35L450.60 767.05L451.90 767.25L453.20 767.42L454.50 763.96L455.80 768.56L457.10 767.55L458.40 767.87L459.70 768.61L461.00 767.23L462.30 770.20L463.60 768.28L464.90 769.83L466.20 773.02L467.50 775.46L468.80 776.61L470.10 774.77L471.40 773.53L472.70 777.59L474.00 774.73L475.30 778.71L476.60 777.64L477.90 777.61L479.20 778.67L480.50 781.32L481.80 783.10L483.10 782.69L484.40 785.60L485.70 788.36L487.00 785.86L488.30 785.41L489.60 786.48L490.90 786.84L492.20 788.72L493.50 789.19L494.80 788.69L496.10 791.70L497.40 787.13L498.70 789.17L500.00 794.29L501.30 793.00L502.60 792.52L503.90 793.97L505.20 798.63L506.50 799.23L507.80 799.71L509.10 798.43L510.40 800.70L511.70 800.23L513.00 800.92L514.30 801.86L515.60 804.10L516.90 805.02L518.20 808.07L519.50 805.75L520.80 808.06L522.10 811.50L523.40 809.06L524.70 811.07L526.00 811.29L527.30 811.98L528.60 811.75L529.90 809.95L531.20 813.56L532.50 815.50L533.80 815.61L535.10 818.61L536.40 818.67L537.70 819.22L539.00 823.14L540.30 823.79L541.60 823.79L542.90 824.31L544.20 825.79L545.50 826.81L546.80 827.52L548.10 828.71L549.40 828.76L550.70 830.60L552.00 831.41L553.30 831.81L554.60 830.98L555.90 831.80L557.20 834.16L558.50 834.02L559.80 835.06L561.10 832.19L562.40 832.66L563.70 837.96L565.00 838.65L566.30 840.91L567.60 840.54L568.90 840.40L570.20 840.70L571.50 839.12L572.80 843.17L574.10 841.53L575.40 843.75L576.70 843.83L578.00 844.47L579.30 845.92L580.60 844.38L581.90 845.09L583.20 844.98L584.50 846.33L585.80 850.12L587.10 847.89L588.40 851.09L589.70 851.45L591.00 852.20L592.30 853.16L593.60 851.22L594.90 853.97L596.20 856.36L597.50 853.45L598.80 854.90L600.10 854.39L601.40 856.33L602.70 854.64L604.00 859.08L605.30 856.51L606.60 855.17L607.90 860.57L609.20 859.73L610.50 859.43L611.80 859.83L613.10 858.86L614.40 859.42L615.70 861.20L617.00 861.84L618.30 862.21L619.60 861.48L620.90 860.80L622.20 861.54L623.50 863.81L624.80 864.61L626.10 862.22L627.40 862.33L628.70 865.25L630.00 864.78L631.30 865.04L632.60 862.29L633.90 863.90L635.20 863.80L636.50 864.91L637.80 862.04L639.10 866.40L640.40 864.83L641.70 864.91L643.00 862.33L644.30 863.90L645.60 865.76L646.90 861.23L648.20 863.79L649.50 864.02L650.80 861.53L652.10 863.39L653.40 861.33L654.70 863.43L656.00 862.29L657.30 861.84L658.60 864.54L659.90 862.81L661.20 863.57L662.50 859.88L663.80 860.76L665.10 863.06L666.40 863.24L667.70 861.88L669.00 863.23L670.30 860.58L671.60 862.71L672.90 860.94L674.20 863.45L675.50 862.44L676.80 862.33L678.10 863.38L679.40 865.98L680.70 861.68L682.00 862.22L683.30 864.65L684.60 862.33L685.90 865.55L687.20 863.17L688.50 862.94L689.80 863.37L691.10 865.76L692.40 864.69L693.70 865.15L695.00 865.39L696.30 863.13L697.60 864.37L698.90 868.10L700.20 867.27L701.50 866.93L702.80 867.23L704.10 865.54L705.40 866.90L706.70 865.05L708.00 866.99L709.30 865.33L710.60 866.08L711.90 867.08L713.20 865.91L714.50 867.37L715.80 867.08L717.10 866.94L718.40 868.38L719.70 863.97L721.00 863.31L722.30 866.02L723.60 865.86L724.90 866.90L726.20 864.63L727.50 864.41L728.80 861.50L730.10 863.63L731.40 863.21L732.70 860.34L734.00 860.35L735.30 861.33L736.60 861.80L737.90 856.89L739.20 861.39L740.50 861.61L741.80 860.99L743.10 861.65L744.40 861.93L745.70 859.71L747.00 861.83L748.30 860.51L749.60 858.61L750.90 859.43L752.20 860.84L753.50 856.43L754.80 856.22L756.10 856.33L757.40 861.89L758.70 858.65L760.00 859.00L761.30 857.85L762.60 857.11L763.90 854.70L765.20 857.23L766.50 856.92L767.80 853.54L769.10 854.94L770.40 855.38L771.70 856.46L773.00 856.87L774.30 858.19L775.60 858.48L776.90 857.37L778.20 856.75L779.50 852.02L780.80 852.42L782.10 854.59L783.40 852.97L784.70 852.30L786.00 849.11L787.30 849.21L788.60 853.15L789.90 852.74L791.20 852.04L792.50 852.16L793.80 850.47L795.10 853.83L796.40 854.94L797.70 855.83L799.00 853.29L800.30 852.67L801.60 851.05L802.90 854.23L804.20 854.68L805.50 850.99L806.80 852.24L808.10 851.94L809.40 850.94L810.70 848.06L812.00 851.27L813.30 852.74L814.60 849.68L815.90 850.61L817.20 846.96L818.50 853.83L819.80 852.68L821.10 852.03L822.40 851.59L823.70 851.13L825.00 852.24L826.30 852.29L827.60 852.88L828.90 853.74L830.20 854.51L831.50 857.13L832.80 853.02L834.10 855.83L835.40 854.56L836.70 853.63L838.00 851.46L839.30 855.50L840.60 852.64L841.90 852.53L843.20 853.98L844.50 851.41L845.80 853.03L847.10 852.98L848.40 854.50L849.70 855.07L851.00 852.53L852.30 855.48L853.60 854.18L854.90 854.64L856.20 854.14L857.50 855.37L858.80 851.91L860.10 853.51L861.40 854.22L862.70 851.39L864.00 854.33L865.30 849.73L866.60 850.71L867.90 849.22L869.20 848.60L870.50 847.47L871.80 847.99L873.10 848.43L874.40 847.03L875.70 849.31L877.00 850.04L878.30 845.24L879.60 848.58L880.90 847.40L882.20 847.27L883.50 850.38L884.80 848.27L886.10 846.77L887.40 846.38L888.70 842.70L890.00 846.88L891.30 844.27L892.60 844.84L893.90 842.55L895.20 842.32L896.50 843.20L897.80 841.10L899.10 841.31L900.40 840.20" fill="none" stroke="#141414" stroke-width="1.9" stroke-linejoin="round"/>
<rect x="84.0" y="554.8" width="820.80" height="341.10" fill="none" stroke="#1a1a1a" stroke-width="1.8"/>
<line x1="74.0" y1="554.80" x2="84.0" y2="554.80" stroke="#1a1a1a" stroke-width="2.0"/>
<line x1="74.0" y1="725.35" x2="84.0" y2="725.35" stroke="#1a1a1a" stroke-width="2.0"/>
<line x1="74.0" y1="895.90" x2="84.0" y2="895.90" stroke="#1a1a1a" stroke-width="2.0"/>
<line x1="79.0" y1="640.07" x2="84.0" y2="640.07" stroke="#1a1a1a" stroke-width="2.0"/>
<line x1="79.0" y1="810.62" x2="84.0" y2="810.62" stroke="#1a1a1a" stroke-width="2.0"/>
<line x1="84.00" y1="895.9" x2="84.00" y2="905.4" stroke="#1a1a1a" stroke-width="2.0"/>
<line x1="166.08" y1="895.9" x2="166.08" y2="905.4" stroke="#1a1a1a" stroke-width="2.0"/>
<line x1="248.16" y1="895.9" x2="248.16" y2="905.4" stroke="#1a1a1a" stroke-width="2.0"/>
<line x1="330.24" y1="895.9" x2="330.24" y2="905.4" stroke="#1a1a1a" stroke-width="2.0"/>
<line x1="412.32" y1="895.9" x2="412.32" y2="905.4" stroke="#1a1a1a" stroke-width="2.0"/>
<line x1="494.40" y1="895.9" x2="494.40" y2="905.4" stroke="#1a1a1a" stroke-width="2.0"/>
<line x1="576.48" y1="895.9" x2="576.48" y2="905.4" stroke="#1a1a1a" stroke-width="2.0"/>
<line x1="658.56" y1="895.9" x2="658.56" y2="905.4" stroke="#1a1a1a" stroke-width="2.0"/>
<line x1="740.64" y1="895.9" x2="740.64" y2="905.4" stroke="#1a1a1a" stroke-width="2.0"/>
<line x1="822.72" y1="895.9" x2="822.72" y2="905.4" stroke="#1a1a1a" stroke-width="2.0"/>
<line x1="904.80" y1="895.9" x2="904.80" y2="905.4" stroke="#1a1a1a" stroke-width="2.0"/>
<line x1="125.04" y1="895.9" x2="125.04" y2="900.9" stroke="#1a1a1a" stroke-width="2.0"/>
<line x1="207.12" y1="895.9" x2="207.12" y2="900.9" stroke="#1a1a1a" stroke-width="2.0"/>
<line x1="289.20" y1="895.9" x2="289.20" y2="900.9" stroke="#1a1a1a" stroke-width="2.0"/>
<line x1="371.28" y1="895.9" x2="371.28" y2="900.9" stroke="#1a1a1a" stroke-width="2.0"/>
<line x1="453.36" y1="895.9" x2="453.36" y2="900.9" stroke="#1a1a1a" stroke-width="2.0"/>
<line x1="535.44" y1="895.9" x2="535.44" y2="900.9" stroke="#1a1a1a" stroke-width="2.0"/>
<line x1="617.52" y1="895.9" x2="617.52" y2="900.9" stroke="#1a1a1a" stroke-width="2.0"/>
<line x1="699.60" y1="895.9" x2="699.60" y2="900.9" stroke="#1a1a1a" stroke-width="2.0"/>
<line x1="781.68" y1="895.9" x2="781.68" y2="900.9" stroke="#1a1a1a" stroke-width="2.0"/>
<line x1="863.76" y1="895.9" x2="863.76" y2="900.9" stroke="#1a1a1a" stroke-width="2.0"/>
<text x="84.00" y="926.90" font-size="20" text-anchor="middle" >200</text>
<text x="166.08" y="926.90" font-size="20" text-anchor="middle" >300</text>
<text x="248.16" y="926.90" font-size="20" text-anchor="middle" >400</text>
<text x="330.24" y="926.90" font-size="20" text-anchor="middle" >500</text>
<text x="412.32" y="926.90" font-size="20" text-anchor="middle" >600</text>
<text x="494.40" y="926.90" font-size="20" text-anchor="middle" >700</text>
<text x="576.48" y="926.90" font-size="20" text-anchor="middle" >800</text>
<text x="658.56" y="926.90" font-size="20" text-anchor="middle" >900</text>
<text x="740.64" y="926.90" font-size="20" text-anchor="middle" >1000</text>
<text x="822.72" y="926.90" font-size="20" text-anchor="middle" >1100</text>
<text x="904.80" y="926.90" font-size="20" text-anchor="middle" >1200</text>
<text x="395.10" y="989.80" font-size="24" text-anchor="start" >Raman Shift / cm<tspan font-size="14" dy="-12">-1</tspan></text>
<text x="0.00" y="0.00" font-size="24" text-anchor="start" transform="translate(18,851.6) rotate(-90)">Absorbance / (arb. units)</text>
<text x="16.80" y="531.30" font-size="35.5" text-anchor="start" stroke="#fff" stroke-width="0.4">b)</text>
<rect x="682.8" y="570.4" width="182.4" height="34.3" fill="#fff" stroke="#7a7a7a" stroke-width="1.4"/>
<line x1="693.3" y1="587.9" x2="743.7" y2="587.9" stroke="#333" stroke-width="1.8"/>
<text x="749.40" y="596.40" font-size="21.8" text-anchor="start" >Nanotubes</text>
<line x1="1124.87" y1="230.0" x2="1124.87" y2="721.7" stroke="#d0d0d0" stroke-width="1.0" stroke-dasharray="4.5 3.5"/>
<line x1="1226.53" y1="230.0" x2="1226.53" y2="721.7" stroke="#d0d0d0" stroke-width="1.0" stroke-dasharray="4.5 3.5"/>
<line x1="1328.20" y1="230.0" x2="1328.20" y2="721.7" stroke="#d0d0d0" stroke-width="1.0" stroke-dasharray="4.5 3.5"/>
<line x1="1429.87" y1="230.0" x2="1429.87" y2="721.7" stroke="#d0d0d0" stroke-width="1.0" stroke-dasharray="4.5 3.5"/>
<line x1="1531.53" y1="230.0" x2="1531.53" y2="721.7" stroke="#d0d0d0" stroke-width="1.0" stroke-dasharray="4.5 3.5"/>
<line x1="1023.2" y1="707.90" x2="1633.2" y2="707.90" stroke="#d0d0d0" stroke-width="1.0" stroke-dasharray="4.5 3.5" stroke-dashoffset="-3.6"/>
<line x1="1023.2" y1="639.30" x2="1633.2" y2="639.30" stroke="#d0d0d0" stroke-width="1.0" stroke-dasharray="4.5 3.5" stroke-dashoffset="-3.6"/>
<line x1="1023.2" y1="570.70" x2="1633.2" y2="570.70" stroke="#d0d0d0" stroke-width="1.0" stroke-dasharray="4.5 3.5" stroke-dashoffset="-3.6"/>
<line x1="1023.2" y1="502.10" x2="1633.2" y2="502.10" stroke="#d0d0d0" stroke-width="1.0" stroke-dasharray="4.5 3.5" stroke-dashoffset="-3.6"/>
<line x1="1023.2" y1="433.50" x2="1633.2" y2="433.50" stroke="#d0d0d0" stroke-width="1.0" stroke-dasharray="4.5 3.5" stroke-dashoffset="-3.6"/>
<line x1="1023.2" y1="364.90" x2="1633.2" y2="364.90" stroke="#d0d0d0" stroke-width="1.0" stroke-dasharray="4.5 3.5" stroke-dashoffset="-3.6"/>
<line x1="1023.2" y1="296.30" x2="1633.2" y2="296.30" stroke="#d0d0d0" stroke-width="1.0" stroke-dasharray="4.5 3.5" stroke-dashoffset="-3.6"/>
<path d="M1023.20 706.35L1024.52 706.05L1025.84 708.64L1027.16 706.24L1028.49 716.21L1029.81 708.11L1031.13 707.44L1032.45 707.73L1033.77 706.26L1035.10 702.35L1036.42 708.56L1037.74 710.16L1039.06 705.03L1040.38 709.30L1041.70 705.85L1043.02 709.18L1044.35 710.30L1045.67 710.66L1046.99 710.52L1048.31 707.27L1049.63 711.80L1050.95 707.99L1052.28 710.29L1053.60 711.32L1054.92 708.39L1056.24 705.47L1057.56 711.12L1058.88 705.81L1060.21 706.33L1061.53 705.10L1062.85 712.64L1064.17 708.61L1065.49 700.27L1066.81 712.20L1068.14 717.55L1069.46 716.46L1070.78 707.33L1072.10 709.51L1073.42 710.82L1074.74 711.93L1076.07 709.37L1077.39 706.08L1078.71 711.46L1080.03 711.04L1081.35 705.45L1082.67 708.22L1084.00 710.04L1085.32 709.26L1086.64 710.76L1087.96 711.53L1089.28 710.81L1090.60 708.94L1091.93 705.44L1093.25 711.01L1094.57 713.24L1095.89 714.87L1097.21 709.17L1098.53 709.16L1099.86 713.36L1101.18 713.34L1102.50 710.23L1103.82 711.28L1105.14 707.10L1106.46 710.92L1107.79 706.92L1109.11 708.85L1110.43 708.91L1111.75 707.93L1113.07 703.26L1114.39 706.91L1115.72 710.21L1117.04 709.09L1118.36 708.14L1119.68 710.48L1121.00 711.22L1122.32 711.68L1123.65 706.95L1124.97 709.32L1126.29 708.30L1127.61 706.73L1128.93 704.95L1130.25 708.97L1131.58 706.73L1132.90 715.50L1134.22 708.96L1135.54 708.59L1136.86 708.08L1138.18 714.79L1139.51 706.45L1140.83 708.77L1142.15 706.91L1143.47 708.86L1144.79 709.14L1146.11 712.77L1147.44 704.56L1148.76 709.17L1150.08 715.20L1151.40 707.19L1152.72 708.52L1154.04 705.68L1155.37 698.76L1156.69 708.81L1158.01 713.94L1159.33 707.36L1160.65 701.85L1161.97 710.30L1163.30 709.55L1164.62 713.02L1165.94 712.48L1167.26 708.31L1168.58 710.58L1169.90 703.28L1171.23 712.93L1172.55 709.86L1173.87 712.93L1175.19 712.99L1176.51 708.15L1177.83 708.63L1179.16 705.73L1180.48 700.97L1181.80 708.70L1183.12 709.85L1184.44 704.89L1185.76 712.08L1187.09 709.63L1188.41 710.93L1189.73 706.60L1191.05 703.47L1192.37 711.71L1193.69 711.14L1195.02 708.91L1196.34 707.98L1197.66 708.42L1198.98 708.84L1200.30 707.75L1201.62 703.37L1202.95 711.53L1204.27 704.91L1205.59 708.29L1206.91 708.37L1208.23 710.00L1209.55 704.61L1210.88 712.72L1212.20 711.14L1213.52 711.46L1214.84 712.89L1216.16 706.97L1217.48 700.28L1218.81 710.22L1220.13 713.03L1221.45 712.61L1222.77 707.73L1224.09 709.01L1225.41 710.10L1226.74 704.02L1228.06 707.32L1229.38 707.38L1230.70 714.15L1232.02 707.11L1233.34 715.56L1234.67 709.34L1235.99 702.58L1237.31 718.16L1238.63 705.53L1239.95 711.32L1241.27 714.50L1242.60 707.71L1243.92 705.70L1245.24 712.32L1246.56 709.49L1247.88 705.78L1249.20 706.20L1250.53 708.19L1251.85 712.05L1253.17 708.48L1254.49 711.17L1255.81 714.02L1257.13 712.93L1258.46 713.45L1259.78 712.91L1261.10 704.47L1262.42 713.04L1263.74 710.30L1265.06 708.93L1266.39 706.14L1267.71 704.74L1269.03 706.13L1270.35 709.24L1271.67 705.97L1272.99 706.99L1274.32 707.55L1275.64 711.19L1276.96 708.46L1278.28 708.89L1279.60 713.05L1280.92 708.39L1282.25 711.00L1283.57 706.31L1284.89 710.23L1286.21 709.64L1287.53 709.80L1288.85 707.98L1290.18 706.38L1291.50 708.45L1292.82 707.97L1294.14 712.23L1295.46 711.88L1296.78 705.88L1298.11 710.58L1299.43 708.32L1300.75 710.24L1302.07 708.31L1303.39 706.27L1304.71 711.40L1306.04 710.24L1307.36 706.74L1308.68 705.33L1310.00 708.17L1311.32 706.77L1312.64 708.51L1313.97 710.67L1315.29 712.65L1316.61 708.44L1317.93 713.01L1319.25 713.03L1320.57 707.91L1321.90 703.97L1323.22 712.03L1324.54 711.25L1325.86 716.84L1327.18 713.88L1328.50 711.47L1329.83 713.43L1331.15 706.89L1332.47 709.74L1333.79 708.71L1335.11 713.07L1336.43 710.52L1337.76 702.82L1339.08 712.20L1340.40 707.41L1341.72 710.95L1343.04 708.32L1344.36 709.83L1345.69 710.65L1347.01 709.73L1348.33 707.33L1349.65 712.27L1350.97 710.16L1352.29 709.29L1353.62 710.83L1354.94 708.18L1356.26 713.41L1357.58 709.83L1358.90 710.15L1360.22 710.13L1361.55 707.20L1362.87 706.42L1364.19 709.95L1365.51 710.49L1366.83 713.67L1368.15 710.80L1369.48 705.88L1370.80 711.05L1372.12 712.01L1373.44 712.57L1374.76 710.43L1376.08 705.45L1377.41 712.56L1378.73 707.53L1380.05 710.69L1381.37 705.77L1382.69 711.04L1384.01 707.62L1385.34 711.68L1386.66 713.12L1387.98 711.83L1389.30 706.86L1390.62 707.34L1391.94 707.50L1393.27 710.73L1394.59 710.07L1395.91 709.67L1397.23 709.99L1398.55 710.59L1399.87 710.78L1401.20 713.29L1402.52 709.20L1403.84 709.94L1405.16 703.41L1406.48 705.11L1407.80 707.24L1409.13 706.16L1410.45 709.86L1411.77 711.66L1413.09 708.38L1414.41 708.29L1415.73 708.25L1417.06 709.59L1418.38 708.19L1419.70 710.20L1421.02 709.94L1422.34 710.02L1423.66 710.89L1424.99 709.37L1426.31 709.60L1427.63 712.93L1428.95 709.21L1430.27 710.95L1431.59 709.42L1432.92 708.35L1434.24 708.35L1435.56 707.60L1436.88 709.32L1438.20 708.03L1439.52 708.41L1440.85 711.88L1442.17 709.01L1443.49 711.75L1444.81 709.88L1446.13 711.21L1447.45 707.89L1448.78 709.65L1450.10 716.36L1451.42 711.88L1452.74 712.50L1454.06 710.04L1455.38 712.03L1456.71 705.57L1458.03 706.56L1459.35 710.66L1460.67 711.89L1461.99 708.14L1463.31 708.79L1464.64 708.34L1465.96 708.76L1467.28 705.49L1468.60 704.69L1469.92 709.01L1471.24 703.71L1472.57 706.13L1473.89 707.15L1475.21 705.89L1476.53 710.00L1477.85 708.07L1479.17 709.07L1480.50 706.95L1481.82 707.62L1483.14 710.37L1484.46 710.03L1485.78 708.27L1487.10 710.02L1488.43 709.64L1489.75 709.58L1491.07 712.56L1492.39 708.42L1493.71 710.11L1495.03 710.11L1496.36 708.76L1497.68 706.85L1499.00 710.65L1500.32 709.77L1501.64 709.34L1502.96 709.28L1504.29 709.27L1505.61 707.41L1506.93 709.82L1508.25 705.56L1509.57 709.17L1510.89 706.18L1512.22 708.50L1513.54 710.66L1514.86 708.68L1516.18 708.23L1517.50 710.25L1518.82 708.66L1520.15 708.37L1521.47 708.40L1522.79 712.27L1524.11 710.54L1525.43 710.17L1526.75 706.77L1528.08 710.45L1529.40 706.56L1530.72 710.16L1532.04 706.91L1533.36 713.17L1534.68 705.73L1536.01 711.69L1537.33 710.83L1538.65 705.51L1539.97 708.68L1541.29 712.20L1542.61 711.58L1543.94 705.59L1545.26 708.00L1546.58 706.41L1547.90 706.59L1549.22 707.40L1550.54 714.52L1551.87 709.52L1553.19 708.38L1554.51 708.03L1555.83 711.11L1557.15 711.04L1558.47 706.79L1559.80 712.64L1561.12 706.71L1562.44 708.56L1563.76 710.12L1565.08 712.76L1566.40 708.44L1567.73 709.76L1569.05 711.86L1570.37 710.45L1571.69 711.49L1573.01 711.30L1574.33 709.70L1575.66 710.46L1576.98 711.05L1578.30 709.11L1579.62 712.48L1580.94 705.02L1582.26 707.21L1583.59 712.30L1584.91 710.12L1586.23 707.62L1587.55 710.08L1588.87 711.95L1590.19 707.67L1591.52 711.08L1592.84 708.85L1594.16 708.89L1595.48 709.01L1596.80 711.53L1598.12 706.83L1599.45 708.41L1600.77 710.53L1602.09 706.67L1603.41 705.94L1604.73 710.33L1606.05 709.17L1607.38 708.87L1608.70 709.46L1610.02 707.14L1611.34 715.35L1612.66 707.03L1613.98 708.20L1615.31 706.00L1616.63 708.24L1617.95 712.49L1619.27 709.20L1620.59 710.43L1621.91 708.13L1623.24 713.05L1624.56 709.52L1625.88 706.49L1627.20 710.80L1628.52 708.40L1629.84 710.42L1631.17 709.46L1632.49 709.71" fill="none" stroke="#ee2a1c" stroke-width="1.7" stroke-dasharray="4 2.5"/>
<path d="M1023.20 706.87L1023.61 706.87L1024.01 706.86L1024.42 706.86L1024.83 706.85L1025.23 706.85L1025.64 706.84L1026.05 706.84L1026.45 706.83L1026.86 706.83L1027.27 706.82L1027.67 706.81L1028.08 706.81L1028.49 706.80L1028.89 706.79L1029.30 706.79L1029.71 706.78L1030.11 706.77L1030.52 706.77L1030.93 706.76L1031.33 706.75L1031.74 706.74L1032.15 706.73L1032.55 706.73L1032.96 706.72L1033.37 706.71L1033.77 706.70L1034.18 706.69L1034.59 706.68L1034.99 706.67L1035.40 706.65L1035.81 706.64L1036.21 706.63L1036.62 706.62L1037.03 706.60L1037.43 706.59L1037.84 706.58L1038.25 706.56L1038.65 706.55L1039.06 706.53L1039.47 706.51L1039.87 706.50L1040.28 706.48L1040.69 706.46L1041.09 706.44L1041.50 706.42L1041.91 706.40L1042.31 706.37L1042.72 706.35L1043.13 706.32L1043.53 706.29L1043.94 706.27L1044.35 706.24L1044.75 706.20L1045.16 706.17L1045.57 706.13L1045.97 706.10L1046.38 706.06L1046.79 706.01L1047.19 705.97L1047.60 705.92L1048.01 705.87L1048.41 705.82L1048.82 705.76L1049.23 705.69L1049.63 705.63L1050.04 705.55L1050.45 705.48L1050.85 705.39L1051.26 705.30L1051.67 705.20L1052.07 705.09L1052.48 704.98L1052.89 704.85L1053.29 704.71L1053.70 704.56L1054.11 704.39L1054.51 704.20L1054.92 704.00L1055.33 703.77L1055.73 703.51L1056.14 703.23L1056.55 702.91L1056.95 702.54L1057.36 702.11L1057.77 701.62L1058.17 701.02L1058.58 700.29L1058.99 699.38L1059.39 698.21L1059.80 696.69L1060.21 694.68L1060.61 692.02L1061.02 688.53L1061.43 684.01L1061.83 678.27L1062.24 671.16L1062.65 662.60L1063.05 652.66L1063.46 641.52L1063.87 629.63L1064.27 617.71L1064.68 606.81L1065.09 598.30L1065.49 593.58L1065.90 593.57L1066.31 598.29L1066.71 606.80L1067.12 617.70L1067.53 629.62L1067.93 641.50L1068.34 652.63L1068.75 662.58L1069.15 671.13L1069.56 678.23L1069.97 683.97L1070.37 688.49L1070.78 691.97L1071.19 694.63L1071.59 696.63L1072.00 698.15L1072.41 699.32L1072.81 700.23L1073.22 700.95L1073.63 701.54L1074.03 702.04L1074.44 702.46L1074.85 702.82L1075.25 703.14L1075.66 703.42L1076.07 703.67L1076.47 703.90L1076.88 704.10L1077.29 704.28L1077.69 704.45L1078.10 704.59L1078.51 704.73L1078.91 704.85L1079.32 704.97L1079.73 705.07L1080.13 705.16L1080.54 705.25L1080.95 705.33L1081.35 705.41L1081.76 705.47L1082.17 705.54L1082.57 705.60L1082.98 705.65L1083.39 705.70L1083.79 705.75L1084.20 705.79L1084.61 705.83L1085.01 705.87L1085.42 705.90L1085.83 705.94L1086.23 705.97L1086.64 706.00L1087.05 706.02L1087.45 706.05L1087.86 706.07L1088.27 706.10L1088.67 706.12L1089.08 706.14L1089.49 706.15L1089.89 706.17L1090.30 706.19L1090.71 706.20L1091.11 706.22L1091.52 706.23L1091.93 706.24L1092.33 706.25L1092.74 706.26L1093.15 706.27L1093.55 706.28L1093.96 706.29L1094.37 706.30L1094.77 706.30L1095.18 706.31L1095.59 706.32L1095.99 706.32L1096.40 706.33L1096.81 706.33L1097.21 706.33L1097.62 706.34L1098.03 706.34L1098.43 706.34L1098.84 706.34L1099.25 706.35L1099.65 706.35L1100.06 706.35L1100.47 706.35L1100.87 706.35L1101.28 706.35L1101.69 706.35L1102.09 706.35L1102.50 706.34L1102.91 706.34L1103.31 706.34L1103.72 706.34L1104.13 706.34L1104.53 706.33L1104.94 706.33L1105.35 706.33L1105.75 706.32L1106.16 706.32L1106.57 706.31L1106.97 706.31L1107.38 706.30L1107.79 706.29L1108.19 706.29L1108.60 706.28L1109.01 706.27L1109.41 706.27L1109.82 706.26L1110.23 706.25L1110.63 706.24L1111.04 706.23L1111.45 706.23L1111.85 706.22L1112.26 706.21L1112.67 706.20L1113.07 706.18L1113.48 706.17L1113.89 706.16L1114.29 706.15L1114.70 706.14L1115.11 706.12L1115.51 706.11L1115.92 706.10L1116.33 706.08L1116.73 706.07L1117.14 706.05L1117.55 706.04L1117.95 706.02L1118.36 706.00L1118.77 705.98L1119.17 705.96L1119.58 705.95L1119.99 705.93L1120.39 705.90L1120.80 705.88L1121.21 705.86L1121.61 705.84L1122.02 705.81L1122.43 705.79L1122.83 705.76L1123.24 705.74L1123.65 705.71L1124.05 705.68L1124.46 705.65L1124.87 705.62L1125.27 705.59L1125.68 705.55L1126.09 705.52L1126.49 705.48L1126.90 705.45L1127.31 705.41L1127.71 705.37L1128.12 705.32L1128.53 705.28L1128.93 705.23L1129.34 705.19L1129.75 705.14L1130.15 705.08L1130.56 705.03L1130.97 704.97L1131.37 704.91L1131.78 704.85L1132.19 704.79L1132.59 704.72L1133.00 704.65L1133.41 704.57L1133.81 704.49L1134.22 704.41L1134.63 704.32L1135.03 704.23L1135.44 704.13L1135.85 704.03L1136.25 703.92L1136.66 703.81L1137.07 703.68L1137.47 703.56L1137.88 703.42L1138.29 703.28L1138.69 703.12L1139.10 702.96L1139.51 702.79L1139.91 702.60L1140.32 702.40L1140.73 702.19L1141.13 701.96L1141.54 701.72L1141.95 701.45L1142.35 701.17L1142.76 700.86L1143.17 700.53L1143.57 700.17L1143.98 699.78L1144.39 699.35L1144.79 698.89L1145.20 698.37L1145.61 697.81L1146.01 697.19L1146.42 696.51L1146.83 695.75L1147.23 694.91L1147.64 693.97L1148.05 692.91L1148.45 691.71L1148.86 690.35L1149.27 688.80L1149.67 687.01L1150.08 684.92L1150.49 682.43L1150.89 679.40L1151.30 675.64L1151.71 670.85L1152.11 664.60L1152.52 656.36L1152.93 645.40L1153.33 630.91L1153.74 612.01L1154.15 587.88L1154.55 557.91L1154.96 521.94L1155.37 480.50L1155.77 435.20L1156.18 389.27L1156.59 348.02L1156.99 318.59L1157.40 307.78L1157.81 318.50L1158.21 347.85L1158.62 389.01L1159.03 434.87L1159.43 480.08L1159.84 521.43L1160.25 557.31L1160.65 587.19L1161.06 611.23L1161.47 630.03L1161.87 644.42L1162.28 655.27L1162.69 663.42L1163.09 669.55L1163.50 674.23L1163.91 677.87L1164.31 680.77L1164.72 683.13L1165.13 685.09L1165.53 686.73L1165.94 688.13L1166.35 689.32L1166.75 690.34L1167.16 691.21L1167.57 691.95L1167.97 692.58L1168.38 693.11L1168.79 693.54L1169.19 693.89L1169.60 694.16L1170.01 694.35L1170.41 694.46L1170.82 694.51L1171.23 694.48L1171.63 694.37L1172.04 694.19L1172.45 693.92L1172.85 693.56L1173.26 693.11L1173.67 692.54L1174.07 691.84L1174.48 690.99L1174.89 689.97L1175.29 688.71L1175.70 687.17L1176.11 685.23L1176.51 682.76L1176.92 679.53L1177.33 675.25L1177.73 669.54L1178.14 661.90L1178.55 651.78L1178.95 638.59L1179.36 621.82L1179.77 601.14L1180.17 576.51L1180.58 548.46L1180.99 518.27L1181.39 488.40L1181.80 462.72L1182.21 446.08L1182.61 442.55L1183.02 453.12L1183.43 475.02L1183.83 503.49L1184.24 534.04L1184.65 563.52L1185.05 590.09L1185.46 612.91L1185.87 631.74L1186.27 646.80L1186.68 658.53L1187.09 667.49L1187.49 674.25L1187.90 679.35L1188.31 683.22L1188.71 686.22L1189.12 688.58L1189.53 690.50L1189.93 692.09L1190.34 693.43L1190.75 694.58L1191.15 695.59L1191.56 696.47L1191.97 697.25L1192.37 697.94L1192.78 698.55L1193.19 699.11L1193.59 699.61L1194.00 700.06L1194.41 700.46L1194.81 700.84L1195.22 701.17L1195.63 701.48L1196.03 701.77L1196.44 702.03L1196.85 702.27L1197.25 702.49L1197.66 702.70L1198.07 702.89L1198.47 703.06L1198.88 703.23L1199.29 703.38L1199.69 703.52L1200.10 703.66L1200.51 703.78L1200.91 703.90L1201.32 704.01L1201.73 704.11L1202.13 704.21L1202.54 704.30L1202.95 704.38L1203.35 704.46L1203.76 704.54L1204.17 704.61L1204.57 704.68L1204.98 704.74L1205.39 704.80L1205.79 704.86L1206.20 704.92L1206.61 704.97L1207.01 705.02L1207.42 705.06L1207.83 705.10L1208.23 705.15L1208.64 705.18L1209.05 705.22L1209.45 705.25L1209.86 705.29L1210.27 705.32L1210.67 705.34L1211.08 705.37L1211.49 705.40L1211.89 705.42L1212.30 705.44L1212.71 705.46L1213.11 705.48L1213.52 705.49L1213.93 705.51L1214.33 705.52L1214.74 705.53L1215.15 705.54L1215.55 705.55L1215.96 705.55L1216.37 705.56L1216.77 705.56L1217.18 705.56L1217.59 705.56L1217.99 705.56L1218.40 705.55L1218.81 705.54L1219.21 705.53L1219.62 705.52L1220.03 705.50L1220.43 705.48L1220.84 705.46L1221.25 705.43L1221.65 705.40L1222.06 705.37L1222.47 705.33L1222.87 705.29L1223.28 705.24L1223.69 705.18L1224.09 705.12L1224.50 705.04L1224.91 704.96L1225.31 704.87L1225.72 704.77L1226.13 704.65L1226.53 704.51L1226.94 704.36L1227.35 704.18L1227.75 703.98L1228.16 703.74L1228.57 703.47L1228.97 703.13L1229.38 702.73L1229.79 702.22L1230.19 701.55L1230.60 700.66L1231.01 699.44L1231.41 697.72L1231.82 695.34L1232.23 692.07L1232.63 687.70L1233.04 682.06L1233.45 675.08L1233.85 666.85L1234.26 657.71L1234.67 648.35L1235.07 639.87L1235.48 633.77L1235.89 631.53L1236.29 633.78L1236.70 639.88L1237.11 648.37L1237.51 657.75L1237.92 666.89L1238.33 675.13L1238.73 682.13L1239.14 687.78L1239.55 692.16L1239.95 695.44L1240.36 697.83L1240.77 699.55L1241.17 700.79L1241.58 701.69L1241.99 702.36L1242.39 702.88L1242.80 703.30L1243.21 703.64L1243.61 703.92L1244.02 704.17L1244.43 704.38L1244.83 704.57L1245.24 704.73L1245.65 704.88L1246.05 705.01L1246.46 705.12L1246.87 705.22L1247.27 705.31L1247.68 705.39L1248.09 705.47L1248.49 705.53L1248.90 705.59L1249.31 705.64L1249.71 705.69L1250.12 705.73L1250.53 705.77L1250.93 705.80L1251.34 705.83L1251.75 705.86L1252.15 705.88L1252.56 705.90L1252.97 705.91L1253.37 705.92L1253.78 705.93L1254.19 705.93L1254.59 705.92L1255.00 705.91L1255.41 705.89L1255.81 705.86L1256.22 705.81L1256.63 705.74L1257.03 705.65L1257.44 705.53L1257.85 705.37L1258.25 705.16L1258.66 704.90L1259.07 704.58L1259.47 704.19L1259.88 703.74L1260.29 703.24L1260.69 702.69L1261.10 702.13L1261.51 701.58L1261.91 701.09L1262.32 700.71L1262.73 700.51L1263.13 700.52L1263.54 700.74L1263.95 701.12L1264.35 701.62L1264.76 702.19L1265.17 702.77L1265.57 703.33L1265.98 703.85L1266.39 704.31L1266.79 704.71L1267.20 705.05L1267.61 705.33L1268.01 705.55L1268.42 705.73L1268.83 705.87L1269.23 705.98L1269.64 706.06L1270.05 706.13L1270.45 706.18L1270.86 706.22L1271.27 706.26L1271.67 706.29L1272.08 706.31L1272.49 706.34L1272.89 706.35L1273.30 706.37L1273.71 706.38L1274.11 706.40L1274.52 706.41L1274.93 706.42L1275.33 706.43L1275.74 706.44L1276.15 706.44L1276.55 706.45L1276.96 706.46L1277.37 706.46L1277.77 706.46L1278.18 706.47L1278.59 706.47L1278.99 706.47L1279.40 706.48L1279.81 706.48L1280.21 706.48L1280.62 706.48L1281.03 706.48L1281.43 706.48L1281.84 706.48L1282.25 706.48L1282.65 706.47L1283.06 706.47L1283.47 706.47L1283.87 706.47L1284.28 706.47L1284.69 706.46L1285.09 706.46L1285.50 706.45L1285.91 706.45L1286.31 706.45L1286.72 706.44L1287.13 706.44L1287.53 706.43L1287.94 706.42L1288.35 706.42L1288.75 706.41L1289.16 706.40L1289.57 706.39L1289.97 706.39L1290.38 706.38L1290.79 706.37L1291.19 706.36L1291.60 706.35L1292.01 706.34L1292.41 706.33L1292.82 706.31L1293.23 706.30L1293.63 706.29L1294.04 706.28L1294.45 706.26L1294.85 706.25L1295.26 706.23L1295.67 706.21L1296.07 706.20L1296.48 706.18L1296.89 706.16L1297.29 706.14L1297.70 706.12L1298.11 706.10L1298.51 706.07L1298.92 706.05L1299.33 706.02L1299.73 706.00L1300.14 705.97L1300.55 705.94L1300.95 705.91L1301.36 705.87L1301.77 705.84L1302.17 705.80L1302.58 705.76L1302.99 705.72L1303.39 705.67L1303.80 705.62L1304.21 705.57L1304.61 705.52L1305.02 705.46L1305.43 705.40L1305.83 705.34L1306.24 705.27L1306.65 705.19L1307.05 705.11L1307.46 705.03L1307.87 704.93L1308.27 704.83L1308.68 704.73L1309.09 704.61L1309.49 704.48L1309.90 704.35L1310.31 704.20L1310.71 704.03L1311.12 703.85L1311.53 703.66L1311.93 703.44L1312.34 703.20L1312.75 702.94L1313.15 702.64L1313.56 702.31L1313.97 701.93L1314.37 701.50L1314.78 701.00L1315.19 700.40L1315.59 699.68L1316.00 698.79L1316.41 697.67L1316.81 696.25L1317.22 694.42L1317.63 692.06L1318.03 689.03L1318.44 685.18L1318.85 680.36L1319.25 674.44L1319.66 667.32L1320.07 658.97L1320.47 649.46L1320.88 638.98L1321.29 627.88L1321.69 616.71L1322.10 606.27L1322.51 597.57L1322.91 591.73L1323.32 589.66L1323.73 591.72L1324.13 597.55L1324.54 606.24L1324.95 616.67L1325.35 627.83L1325.76 638.92L1326.17 649.38L1326.57 658.88L1326.98 667.22L1327.39 674.33L1327.79 680.24L1328.20 685.05L1328.61 688.89L1329.01 691.90L1329.42 694.25L1329.83 696.06L1330.23 697.48L1330.64 698.58L1331.05 699.46L1331.45 700.17L1331.86 700.75L1332.27 701.24L1332.67 701.66L1333.08 702.02L1333.49 702.34L1333.89 702.62L1334.30 702.87L1334.71 703.10L1335.11 703.30L1335.52 703.48L1335.93 703.64L1336.33 703.79L1336.74 703.92L1337.15 704.04L1337.55 704.15L1337.96 704.24L1338.37 704.33L1338.77 704.41L1339.18 704.48L1339.59 704.55L1339.99 704.61L1340.40 704.66L1340.81 704.70L1341.21 704.75L1341.62 704.78L1342.03 704.81L1342.43 704.84L1342.84 704.86L1343.25 704.88L1343.65 704.89L1344.06 704.90L1344.47 704.91L1344.87 704.91L1345.28 704.91L1345.69 704.91L1346.09 704.90L1346.50 704.89L1346.91 704.87L1347.31 704.85L1347.72 704.83L1348.13 704.81L1348.53 704.78L1348.94 704.74L1349.35 704.71L1349.75 704.66L1350.16 704.62L1350.57 704.57L1350.97 704.51L1351.38 704.45L1351.79 704.38L1352.19 704.31L1352.60 704.23L1353.01 704.14L1353.41 704.05L1353.82 703.95L1354.23 703.84L1354.63 703.72L1355.04 703.59L1355.45 703.45L1355.85 703.30L1356.26 703.14L1356.67 702.96L1357.07 702.76L1357.48 702.54L1357.89 702.31L1358.29 702.05L1358.70 701.77L1359.11 701.45L1359.51 701.10L1359.92 700.71L1360.33 700.26L1360.73 699.74L1361.14 699.15L1361.55 698.44L1361.95 697.60L1362.36 696.59L1362.77 695.35L1363.17 693.82L1363.58 691.94L1363.99 689.61L1364.39 686.73L1364.80 683.22L1365.21 678.96L1365.61 673.86L1366.02 667.84L1366.43 660.85L1366.83 652.88L1367.24 643.96L1367.65 634.21L1368.05 623.81L1368.46 613.05L1368.87 602.35L1369.27 592.25L1369.68 583.44L1370.09 576.67L1370.49 572.63L1370.90 571.79L1371.31 574.27L1371.71 579.75L1372.12 587.64L1372.53 597.18L1372.93 607.66L1373.34 618.45L1373.75 629.07L1374.15 639.18L1374.56 648.53L1374.97 656.98L1375.37 664.47L1375.78 670.97L1376.19 676.52L1376.59 681.19L1377.00 685.06L1377.41 688.24L1377.81 690.83L1378.22 692.93L1378.63 694.62L1379.03 696.00L1379.44 697.11L1379.85 698.04L1380.25 698.80L1380.66 699.45L1381.07 700.00L1381.47 700.48L1381.88 700.89L1382.29 701.26L1382.69 701.60L1383.10 701.89L1383.51 702.16L1383.91 702.40L1384.32 702.63L1384.73 702.83L1385.13 703.01L1385.54 703.18L1385.95 703.33L1386.35 703.47L1386.76 703.60L1387.17 703.72L1387.57 703.83L1387.98 703.93L1388.39 704.02L1388.79 704.10L1389.20 704.17L1389.61 704.23L1390.01 704.29L1390.42 704.34L1390.83 704.39L1391.23 704.42L1391.64 704.45L1392.05 704.48L1392.45 704.49L1392.86 704.50L1393.27 704.51L1393.67 704.50L1394.08 704.49L1394.49 704.47L1394.89 704.44L1395.30 704.40L1395.71 704.35L1396.11 704.28L1396.52 704.20L1396.93 704.10L1397.33 703.97L1397.74 703.81L1398.15 703.61L1398.55 703.35L1398.96 703.02L1399.37 702.60L1399.77 702.05L1400.18 701.36L1400.59 700.49L1400.99 699.41L1401.40 698.09L1401.81 696.50L1402.21 694.63L1402.62 692.48L1403.03 690.07L1403.43 687.44L1403.84 684.67L1404.25 681.88L1404.65 679.22L1405.06 676.92L1405.47 675.20L1405.87 674.27L1406.28 674.28L1406.69 675.23L1407.09 676.97L1407.50 679.29L1407.91 681.97L1408.31 684.78L1408.72 687.57L1409.13 690.22L1409.53 692.65L1409.94 694.83L1410.35 696.72L1410.75 698.33L1411.16 699.68L1411.57 700.78L1411.97 701.68L1412.38 702.39L1412.79 702.96L1413.19 703.41L1413.60 703.77L1414.01 704.05L1414.41 704.28L1414.82 704.47L1415.23 704.63L1415.63 704.76L1416.04 704.88L1416.45 704.98L1416.85 705.07L1417.26 705.15L1417.67 705.22L1418.07 705.28L1418.48 705.33L1418.89 705.38L1419.29 705.43L1419.70 705.47L1420.11 705.51L1420.51 705.54L1420.92 705.57L1421.33 705.59L1421.73 705.62L1422.14 705.64L1422.55 705.65L1422.95 705.67L1423.36 705.68L1423.77 705.69L1424.17 705.70L1424.58 705.71L1424.99 705.72L1425.39 705.72L1425.80 705.72L1426.21 705.72L1426.61 705.72L1427.02 705.72L1427.43 705.71L1427.83 705.71L1428.24 705.70L1428.65 705.69L1429.05 705.68L1429.46 705.67L1429.87 705.66L1430.27 705.64L1430.68 705.62L1431.09 705.61L1431.49 705.59L1431.90 705.56L1432.31 705.54L1432.71 705.51L1433.12 705.48L1433.53 705.45L1433.93 705.42L1434.34 705.39L1434.75 705.35L1435.15 705.31L1435.56 705.27L1435.97 705.22L1436.37 705.17L1436.78 705.12L1437.19 705.06L1437.59 705.00L1438.00 704.94L1438.41 704.87L1438.81 704.80L1439.22 704.72L1439.63 704.63L1440.03 704.54L1440.44 704.44L1440.85 704.34L1441.25 704.22L1441.66 704.10L1442.07 703.96L1442.47 703.82L1442.88 703.66L1443.29 703.49L1443.69 703.30L1444.10 703.09L1444.51 702.86L1444.91 702.60L1445.32 702.31L1445.73 701.98L1446.13 701.60L1446.54 701.16L1446.95 700.63L1447.35 700.00L1447.76 699.24L1448.17 698.31L1448.57 697.17L1448.98 695.78L1449.39 694.08L1449.79 692.01L1450.20 689.53L1450.61 686.57L1451.01 683.10L1451.42 679.08L1451.83 674.50L1452.23 669.37L1452.64 663.76L1453.05 657.74L1453.45 651.46L1453.86 645.13L1454.27 639.02L1454.67 633.48L1455.08 628.91L1455.49 625.73L1455.89 624.25L1456.30 624.63L1456.71 626.83L1457.11 630.58L1457.52 635.51L1457.93 641.20L1458.33 647.28L1458.74 653.42L1459.15 659.39L1459.55 665.01L1459.96 670.16L1460.37 674.76L1460.77 678.80L1461.18 682.25L1461.59 685.13L1461.99 687.47L1462.40 689.31L1462.81 690.68L1463.21 691.63L1463.62 692.17L1464.03 692.34L1464.43 692.13L1464.84 691.54L1465.25 690.54L1465.65 689.12L1466.06 687.23L1466.47 684.83L1466.87 681.90L1467.28 678.41L1467.69 674.35L1468.09 669.73L1468.50 664.60L1468.91 659.03L1469.31 653.16L1469.72 647.17L1470.13 641.31L1470.53 635.92L1470.94 631.37L1471.35 628.06L1471.75 626.35L1472.16 626.44L1472.57 628.33L1472.97 631.82L1473.38 636.55L1473.79 642.13L1474.19 648.18L1474.60 654.37L1475.01 660.45L1475.41 666.24L1475.82 671.61L1476.23 676.48L1476.63 680.82L1477.04 684.61L1477.45 687.88L1477.85 690.64L1478.26 692.96L1478.67 694.89L1479.07 696.47L1479.48 697.76L1479.89 698.82L1480.29 699.69L1480.70 700.40L1481.11 701.00L1481.51 701.49L1481.92 701.91L1482.33 702.28L1482.73 702.59L1483.14 702.87L1483.55 703.12L1483.95 703.34L1484.36 703.55L1484.77 703.73L1485.17 703.90L1485.58 704.05L1485.99 704.20L1486.39 704.33L1486.80 704.45L1487.21 704.57L1487.61 704.67L1488.02 704.77L1488.43 704.87L1488.83 704.95L1489.24 705.04L1489.65 705.11L1490.05 705.18L1490.46 705.25L1490.87 705.31L1491.27 705.37L1491.68 705.43L1492.09 705.48L1492.49 705.54L1492.90 705.58L1493.31 705.63L1493.71 705.67L1494.12 705.71L1494.53 705.75L1494.93 705.79L1495.34 705.82L1495.75 705.86L1496.15 705.89L1496.56 705.92L1496.97 705.95L1497.37 705.98L1497.78 706.00L1498.19 706.03L1498.59 706.05L1499.00 706.07L1499.41 706.10L1499.81 706.12L1500.22 706.14L1500.63 706.16L1501.03 706.18L1501.44 706.19L1501.85 706.21L1502.25 706.23L1502.66 706.24L1503.07 706.26L1503.47 706.27L1503.88 706.28L1504.29 706.30L1504.69 706.31L1505.10 706.32L1505.51 706.33L1505.91 706.34L1506.32 706.35L1506.73 706.36L1507.13 706.37L1507.54 706.38L1507.95 706.39L1508.35 706.40L1508.76 706.41L1509.17 706.41L1509.57 706.42L1509.98 706.43L1510.39 706.43L1510.79 706.44L1511.20 706.44L1511.61 706.45L1512.01 706.45L1512.42 706.46L1512.83 706.46L1513.23 706.47L1513.64 706.47L1514.05 706.47L1514.45 706.48L1514.86 706.48L1515.27 706.48L1515.67 706.48L1516.08 706.48L1516.49 706.49L1516.89 706.49L1517.30 706.49L1517.71 706.49L1518.11 706.49L1518.52 706.49L1518.93 706.49L1519.33 706.49L1519.74 706.48L1520.15 706.48L1520.55 706.48L1520.96 706.48L1521.37 706.47L1521.77 706.47L1522.18 706.47L1522.59 706.46L1522.99 706.46L1523.40 706.45L1523.81 706.45L1524.21 706.44L1524.62 706.43L1525.03 706.43L1525.43 706.42L1525.84 706.41L1526.25 706.40L1526.65 706.39L1527.06 706.38L1527.47 706.37L1527.87 706.36L1528.28 706.35L1528.69 706.34L1529.09 706.32L1529.50 706.31L1529.91 706.29L1530.31 706.27L1530.72 706.26L1531.13 706.24L1531.53 706.22L1531.94 706.20L1532.35 706.17L1532.75 706.15L1533.16 706.12L1533.57 706.10L1533.97 706.07L1534.38 706.04L1534.79 706.00L1535.19 705.97L1535.60 705.93L1536.01 705.89L1536.41 705.84L1536.82 705.80L1537.23 705.74L1537.63 705.69L1538.04 705.63L1538.45 705.56L1538.85 705.49L1539.26 705.41L1539.67 705.32L1540.07 705.23L1540.48 705.12L1540.89 704.99L1541.29 704.85L1541.70 704.68L1542.11 704.50L1542.51 704.28L1542.92 704.02L1543.33 703.72L1543.73 703.37L1544.14 702.96L1544.55 702.48L1544.95 701.93L1545.36 701.29L1545.77 700.55L1546.17 699.72L1546.58 698.77L1546.99 697.70L1547.39 696.51L1547.80 695.20L1548.21 693.77L1548.61 692.23L1549.02 690.59L1549.43 688.86L1549.83 687.07L1550.24 685.25L1550.65 683.44L1551.05 681.70L1551.46 680.06L1551.87 678.62L1552.27 677.42L1552.68 676.54L1553.09 676.03L1553.49 675.93L1553.90 676.23L1554.31 676.93L1554.71 677.98L1555.12 679.30L1555.53 680.85L1555.93 682.55L1556.34 684.33L1556.75 686.15L1557.15 687.95L1557.56 689.71L1557.97 691.40L1558.37 692.99L1558.78 694.47L1559.19 695.84L1559.59 697.09L1560.00 698.21L1560.41 699.22L1560.81 700.11L1561.22 700.89L1561.63 701.58L1562.03 702.17L1562.44 702.68L1562.85 703.12L1563.25 703.49L1563.66 703.81L1564.07 704.08L1564.47 704.32L1564.88 704.52L1565.29 704.69L1565.69 704.84L1566.10 704.96L1566.51 705.08L1566.91 705.17L1567.32 705.26L1567.73 705.34L1568.13 705.40L1568.54 705.47L1568.95 705.52L1569.35 705.57L1569.76 705.61L1570.17 705.65L1570.57 705.69L1570.98 705.72L1571.39 705.74L1571.79 705.77L1572.20 705.79L1572.61 705.81L1573.01 705.82L1573.42 705.83L1573.83 705.84L1574.23 705.84L1574.64 705.84L1575.05 705.84L1575.45 705.83L1575.86 705.82L1576.27 705.81L1576.67 705.79L1577.08 705.77L1577.49 705.74L1577.89 705.70L1578.30 705.65L1578.71 705.60L1579.11 705.53L1579.52 705.45L1579.93 705.34L1580.33 705.22L1580.74 705.07L1581.15 704.89L1581.55 704.67L1581.96 704.41L1582.37 704.10L1582.77 703.73L1583.18 703.30L1583.59 702.80L1583.99 702.23L1584.40 701.59L1584.81 700.87L1585.21 700.08L1585.62 699.22L1586.03 698.31L1586.43 697.35L1586.84 696.37L1587.25 695.39L1587.65 694.45L1588.06 693.58L1588.47 692.84L1588.87 692.26L1589.28 691.90L1589.69 691.77L1590.09 691.90L1590.50 692.27L1590.91 692.86L1591.31 693.61L1591.72 694.48L1592.13 695.43L1592.53 696.42L1592.94 697.41L1593.35 698.37L1593.75 699.30L1594.16 700.16L1594.57 700.96L1594.97 701.68L1595.38 702.33L1595.79 702.91L1596.19 703.42L1596.60 703.85L1597.01 704.23L1597.41 704.55L1597.82 704.82L1598.23 705.04L1598.63 705.23L1599.04 705.39L1599.45 705.52L1599.85 705.63L1600.26 705.72L1600.67 705.80L1601.07 705.86L1601.48 705.91L1601.89 705.96L1602.29 705.99L1602.70 706.02L1603.11 706.05L1603.51 706.07L1603.92 706.08L1604.33 706.08L1604.73 706.09L1605.14 706.08L1605.55 706.07L1605.95 706.04L1606.36 706.01L1606.77 705.97L1607.17 705.91L1607.58 705.84L1607.99 705.75L1608.39 705.64L1608.80 705.51L1609.21 705.36L1609.61 705.18L1610.02 704.98L1610.43 704.75L1610.83 704.50L1611.24 704.22L1611.65 703.92L1612.05 703.61L1612.46 703.28L1612.87 702.95L1613.27 702.63L1613.68 702.32L1614.09 702.06L1614.49 701.84L1614.90 701.69L1615.31 701.61L1615.71 701.61L1616.12 701.69L1616.53 701.83L1616.93 702.03L1617.34 702.26L1617.75 702.51L1618.15 702.77L1618.56 703.02L1618.97 703.25L1619.37 703.45L1619.78 703.61L1620.19 703.75L1620.59 703.84L1621.00 703.89L1621.41 703.91L1621.81 703.90L1622.22 703.86L1622.63 703.79L1623.03 703.72L1623.44 703.64L1623.85 703.58L1624.25 703.53L1624.66 703.52L1625.07 703.54L1625.47 703.61L1625.88 703.72L1626.29 703.87L1626.69 704.05L1627.10 704.25L1627.51 704.46L1627.91 704.67L1628.32 704.89L1628.73 705.10L1629.13 705.30L1629.54 705.48L1629.95 705.65L1630.35 705.81L1630.76 705.95L1631.17 706.08L1631.57 706.19L1631.98 706.28L1632.39 706.37L1632.79 706.44" fill="none" stroke="#2b3be0" stroke-width="1.9" stroke-linejoin="round"/>
<path d="M1023.20 706.53L1023.71 701.66L1024.22 702.12L1024.73 708.40L1025.23 707.58L1025.74 708.37L1026.25 704.32L1026.76 706.54L1027.27 703.55L1027.78 712.92L1028.28 700.42L1028.79 706.39L1029.30 703.48L1029.81 706.35L1030.32 707.14L1030.83 703.97L1031.33 702.55L1031.84 706.15L1032.35 705.85L1032.86 702.68L1033.37 708.18L1033.88 710.37L1034.38 703.31L1034.89 707.01L1035.40 711.37L1035.91 707.21L1036.42 705.80L1036.93 708.25L1037.43 709.16L1037.94 703.48L1038.45 700.21L1038.96 704.12L1039.47 705.79L1039.98 701.57L1040.48 700.23L1040.99 703.72L1041.50 700.55L1042.01 698.63L1042.52 702.97L1043.03 705.01L1043.53 700.75L1044.04 701.00L1044.55 697.89L1045.06 706.25L1045.57 703.96L1046.08 704.51L1046.58 707.61L1047.09 701.00L1047.60 699.55L1048.11 703.95L1048.62 696.51L1049.13 698.46L1049.63 699.13L1050.14 699.91L1050.65 698.00L1051.16 705.83L1051.67 699.17L1052.18 699.20L1052.68 707.16L1053.19 700.01L1053.70 701.95L1054.21 698.47L1054.72 702.37L1055.23 700.87L1055.73 699.55L1056.24 703.16L1056.75 698.28L1057.26 700.07L1057.77 697.81L1058.28 700.10L1058.78 694.70L1059.29 694.82L1059.80 694.99L1060.31 690.53L1060.82 685.76L1061.33 680.12L1061.83 678.43L1062.34 666.50L1062.85 656.34L1063.36 644.44L1063.87 631.66L1064.38 616.67L1064.88 607.29L1065.39 599.14L1065.90 598.01L1066.41 605.90L1066.92 615.62L1067.43 629.57L1067.93 642.05L1068.44 653.67L1068.95 664.08L1069.46 677.93L1069.97 683.83L1070.48 687.15L1070.98 689.18L1071.49 694.54L1072.00 699.58L1072.51 698.38L1073.02 700.36L1073.53 701.77L1074.03 704.04L1074.54 701.20L1075.05 701.87L1075.56 703.51L1076.07 704.26L1076.58 707.99L1077.08 705.67L1077.59 700.32L1078.10 705.13L1078.61 709.49L1079.12 700.33L1079.63 703.17L1080.13 697.92L1080.64 704.98L1081.15 706.88L1081.66 710.37L1082.17 700.90L1082.68 696.65L1083.18 708.46L1083.69 707.92L1084.20 703.65L1084.71 708.68L1085.22 706.77L1085.73 707.10L1086.23 705.24L1086.74 702.09L1087.25 705.90L1087.76 702.77L1088.27 707.52L1088.78 704.91L1089.28 713.65L1089.79 711.24L1090.30 703.31L1090.81 708.24L1091.32 704.11L1091.83 704.26L1092.33 701.50L1092.84 703.32L1093.35 702.60L1093.86 706.63L1094.37 708.72L1094.88 708.85L1095.38 707.99L1095.89 710.29L1096.40 708.22L1096.91 706.60L1097.42 705.38L1097.93 707.49L1098.43 713.14L1098.94 706.54L1099.45 705.48L1099.96 702.42L1100.47 704.23L1100.98 708.58L1101.48 708.87L1101.99 699.11L1102.50 703.58L1103.01 699.75L1103.52 698.68L1104.03 709.19L1104.53 704.89L1105.04 704.63L1105.55 704.26L1106.06 704.32L1106.57 705.52L1107.08 705.61L1107.58 711.57L1108.09 706.80L1108.60 708.86L1109.11 705.75L1109.62 707.85L1110.13 703.98L1110.63 703.26L1111.14 705.06L1111.65 705.02L1112.16 705.80L1112.67 707.70L1113.18 706.68L1113.68 707.83L1114.19 704.69L1114.70 706.00L1115.21 703.98L1115.72 710.69L1116.23 702.86L1116.73 708.65L1117.24 708.52L1117.75 706.60L1118.26 707.84L1118.77 704.80L1119.28 707.78L1119.78 709.45L1120.29 708.59L1120.80 700.95L1121.31 705.27L1121.82 709.35L1122.33 705.09L1122.83 710.33L1123.34 698.50L1123.85 709.74L1124.36 702.53L1124.87 702.02L1125.38 708.60L1125.88 702.26L1126.39 699.58L1126.90 701.13L1127.41 701.60L1127.92 699.06L1128.43 701.60L1128.93 700.92L1129.44 702.45L1129.95 699.91L1130.46 705.28L1130.97 699.56L1131.48 704.05L1131.98 706.15L1132.49 701.46L1133.00 697.23L1133.51 699.81L1134.02 704.80L1134.53 700.91L1135.03 704.73L1135.54 703.68L1136.05 702.98L1136.56 710.63L1137.07 702.53L1137.58 706.28L1138.08 705.08L1138.59 707.31L1139.10 707.21L1139.61 705.19L1140.12 699.57L1140.63 696.81L1141.13 701.57L1141.64 697.98L1142.15 701.56L1142.66 705.82L1143.17 699.53L1143.68 698.24L1144.18 700.06L1144.69 697.51L1145.20 696.16L1145.71 699.00L1146.22 699.55L1146.73 695.52L1147.23 694.35L1147.74 693.34L1148.25 689.08L1148.76 686.02L1149.27 688.03L1149.78 683.62L1150.28 680.29L1150.79 676.86L1151.30 671.44L1151.81 666.20L1152.32 655.41L1152.83 640.85L1153.33 622.98L1153.84 598.28L1154.35 563.61L1154.86 520.80L1155.37 471.33L1155.88 417.23L1156.38 362.93L1156.89 324.80L1157.40 308.30L1157.91 323.83L1158.42 364.62L1158.93 415.64L1159.43 470.89L1159.94 521.93L1160.45 562.92L1160.96 597.32L1161.47 624.04L1161.98 641.98L1162.48 654.63L1162.99 663.73L1163.50 671.01L1164.01 676.10L1164.52 679.18L1165.03 683.08L1165.53 683.05L1166.04 686.62L1166.55 687.86L1167.06 688.60L1167.57 692.81L1168.08 692.98L1168.58 688.94L1169.09 691.96L1169.60 693.68L1170.11 692.56L1170.62 694.50L1171.13 692.82L1171.63 694.77L1172.14 692.45L1172.65 696.04L1173.16 689.28L1173.67 692.41L1174.18 693.55L1174.68 689.59L1175.19 688.26L1175.70 685.25L1176.21 684.55L1176.72 678.35L1177.23 669.00L1177.73 667.32L1178.24 654.88L1178.75 640.59L1179.26 620.33L1179.77 596.31L1180.28 564.93L1180.78 528.80L1181.29 493.34L1181.80 461.60L1182.31 445.99L1182.82 447.49L1183.33 466.29L1183.83 501.26L1184.34 537.57L1184.85 571.51L1185.36 601.57L1185.87 625.40L1186.38 644.92L1186.88 659.92L1187.39 669.19L1187.90 673.18L1188.41 680.01L1188.92 690.61L1189.43 688.94L1189.93 692.67L1190.44 691.36L1190.95 694.58L1191.46 690.88L1191.97 694.23L1192.48 695.19L1192.98 697.78L1193.49 699.09L1194.00 698.70L1194.51 696.59L1195.02 699.21L1195.53 702.23L1196.03 697.92L1196.54 701.50L1197.05 702.69L1197.56 705.24L1198.07 704.92L1198.58 705.49L1199.08 712.59L1199.59 700.98L1200.10 702.70L1200.61 705.50L1201.12 701.77L1201.63 704.02L1202.13 704.54L1202.64 714.12L1203.15 707.11L1203.66 704.89L1204.17 701.61L1204.68 701.11L1205.18 702.74L1205.69 711.61L1206.20 715.33L1206.71 706.29L1207.22 708.31L1207.73 705.34L1208.23 709.17L1208.74 708.13L1209.25 714.06L1209.76 707.52L1210.27 710.61L1210.78 707.91L1211.28 707.51L1211.79 709.43L1212.30 707.86L1212.81 708.87L1213.32 706.07L1213.83 706.78L1214.33 710.17L1214.84 710.08L1215.35 701.80L1215.86 707.87L1216.37 703.81L1216.88 705.55L1217.38 708.52L1217.89 708.83L1218.40 705.51L1218.91 704.71L1219.42 703.16L1219.93 709.32L1220.43 706.73L1220.94 704.76L1221.45 698.73L1221.96 712.08L1222.47 702.35L1222.98 705.54L1223.48 702.13L1223.99 705.18L1224.50 702.22L1225.01 698.14L1225.52 702.17L1226.03 701.86L1226.53 702.01L1227.04 705.61L1227.55 701.28L1228.06 703.54L1228.57 705.22L1229.08 702.45L1229.58 702.57L1230.09 698.98L1230.60 700.34L1231.11 700.12L1231.62 692.77L1232.13 690.65L1232.63 685.28L1233.14 679.56L1233.65 671.41L1234.16 660.79L1234.67 649.08L1235.18 637.93L1235.68 632.73L1236.19 634.67L1236.70 640.52L1237.21 652.39L1237.72 662.52L1238.23 674.83L1238.73 684.11L1239.24 688.67L1239.75 693.93L1240.26 701.25L1240.77 697.25L1241.28 694.53L1241.78 706.14L1242.29 696.84L1242.80 705.07L1243.31 704.88L1243.82 704.20L1244.33 708.57L1244.83 699.85L1245.34 702.64L1245.85 706.89L1246.36 705.45L1246.87 709.68L1247.38 705.86L1247.88 701.61L1248.39 710.55L1248.90 706.28L1249.41 704.33L1249.92 701.30L1250.43 700.27L1250.93 706.31L1251.44 707.20L1251.95 703.15L1252.46 705.78L1252.97 705.48L1253.48 700.75L1253.98 698.60L1254.49 703.04L1255.00 704.23L1255.51 701.44L1256.02 708.65L1256.53 702.28L1257.03 704.65L1257.54 693.82L1258.05 697.64L1258.56 698.04L1259.07 697.48L1259.58 701.34L1260.08 692.06L1260.59 688.41L1261.10 691.43L1261.61 687.10L1262.12 685.84L1262.63 689.24L1263.13 684.94L1263.64 684.92L1264.15 688.29L1264.66 690.54L1265.17 690.59L1265.68 697.59L1266.18 695.63L1266.69 694.75L1267.20 702.15L1267.71 697.25L1268.22 702.26L1268.73 708.13L1269.23 702.91L1269.74 706.22L1270.25 702.60L1270.76 707.81L1271.27 700.84L1271.78 707.01L1272.28 703.56L1272.79 706.94L1273.30 706.17L1273.81 701.13L1274.32 704.57L1274.83 706.77L1275.33 709.81L1275.84 701.55L1276.35 703.09L1276.86 706.83L1277.37 704.90L1277.88 709.39L1278.38 709.39L1278.89 708.77L1279.40 704.67L1279.91 704.90L1280.42 708.59L1280.93 703.39L1281.43 703.25L1281.94 705.43L1282.45 702.39L1282.96 707.09L1283.47 706.49L1283.98 704.43L1284.48 706.23L1284.99 703.31L1285.50 710.57L1286.01 701.08L1286.52 708.91L1287.03 706.73L1287.53 711.04L1288.04 704.03L1288.55 701.64L1289.06 702.36L1289.57 703.20L1290.08 711.67L1290.58 708.92L1291.09 707.78L1291.60 709.45L1292.11 702.15L1292.62 705.47L1293.13 706.20L1293.63 704.38L1294.14 709.46L1294.65 709.29L1295.16 709.18L1295.67 704.29L1296.18 704.83L1296.68 703.98L1297.19 702.19L1297.70 709.73L1298.21 707.50L1298.72 705.52L1299.23 709.62L1299.73 707.34L1300.24 703.04L1300.75 702.77L1301.26 702.81L1301.77 705.61L1302.28 706.26L1302.78 702.68L1303.29 706.60L1303.80 704.61L1304.31 701.87L1304.82 706.41L1305.33 706.99L1305.83 705.29L1306.34 703.58L1306.85 703.80L1307.36 704.58L1307.87 703.41L1308.38 709.01L1308.88 706.91L1309.39 704.07L1309.90 706.76L1310.41 707.64L1310.92 707.08L1311.43 706.09L1311.93 703.95L1312.44 705.77L1312.95 702.30L1313.46 698.36L1313.97 702.39L1314.48 698.48L1314.98 700.11L1315.49 702.36L1316.00 699.23L1316.51 699.11L1317.02 693.59L1317.53 694.34L1318.03 686.71L1318.54 683.50L1319.05 681.23L1319.56 671.19L1320.07 662.76L1320.58 656.22L1321.08 645.47L1321.59 638.38L1322.10 628.43L1322.61 623.42L1323.12 618.49L1323.63 620.52L1324.13 625.18L1324.64 629.84L1325.15 637.00L1325.66 648.55L1326.17 656.52L1326.68 665.68L1327.18 673.71L1327.69 679.03L1328.20 682.79L1328.71 691.39L1329.22 691.76L1329.73 694.65L1330.23 700.16L1330.74 695.26L1331.25 695.49L1331.76 702.84L1332.27 697.25L1332.78 701.70L1333.28 702.65L1333.79 698.93L1334.30 702.34L1334.81 702.36L1335.32 699.56L1335.83 700.31L1336.33 701.47L1336.84 707.49L1337.35 708.08L1337.86 701.23L1338.37 706.65L1338.88 703.94L1339.38 707.21L1339.89 704.95L1340.40 707.88L1340.91 700.29L1341.42 707.29L1341.93 704.96L1342.43 705.16L1342.94 701.50L1343.45 708.45L1343.96 704.79L1344.47 705.25L1344.98 703.29L1345.48 703.43L1345.99 705.88L1346.50 704.01L1347.01 705.59L1347.52 703.34L1348.03 704.80L1348.53 706.20L1349.04 704.49L1349.55 703.41L1350.06 698.39L1350.57 705.48L1351.08 703.33L1351.58 700.25L1352.09 709.25L1352.60 708.25L1353.11 706.69L1353.62 703.81L1354.13 697.23L1354.63 702.21L1355.14 700.00L1355.65 703.33L1356.16 708.57L1356.67 707.89L1357.18 699.56L1357.68 701.23L1358.19 704.34L1358.70 698.31L1359.21 703.89L1359.72 697.32L1360.23 696.03L1360.73 700.00L1361.24 699.67L1361.75 694.52L1362.26 696.69L1362.77 691.16L1363.28 692.14L1363.78 685.79L1364.29 682.87L1364.80 678.53L1365.31 672.86L1365.82 664.33L1366.33 657.59L1366.83 646.30L1367.34 635.39L1367.85 622.74L1368.36 611.88L1368.87 597.75L1369.38 588.29L1369.88 580.18L1370.39 573.01L1370.90 571.52L1371.41 575.82L1371.92 583.14L1372.43 592.21L1372.93 604.17L1373.44 616.11L1373.95 626.88L1374.46 639.27L1374.97 650.02L1375.48 659.20L1375.98 667.67L1376.49 673.49L1377.00 678.97L1377.51 685.18L1378.02 688.15L1378.53 687.12L1379.03 692.70L1379.54 695.59L1380.05 692.54L1380.56 697.72L1381.07 700.98L1381.58 697.90L1382.08 701.99L1382.59 701.63L1383.10 700.19L1383.61 701.63L1384.12 703.49L1384.63 703.30L1385.13 703.68L1385.64 699.64L1386.15 704.47L1386.66 704.31L1387.17 697.99L1387.68 704.60L1388.18 699.60L1388.69 700.14L1389.20 703.95L1389.71 707.27L1390.22 702.58L1390.73 702.08L1391.23 701.37L1391.74 703.70L1392.25 700.82L1392.76 700.35L1393.27 706.62L1393.78 700.23L1394.28 703.42L1394.79 705.27L1395.30 704.56L1395.81 698.88L1396.32 701.05L1396.83 707.89L1397.33 702.97L1397.84 703.25L1398.35 702.98L1398.86 703.29L1399.37 704.81L1399.88 698.54L1400.38 701.33L1400.89 698.44L1401.40 696.77L1401.91 694.30L1402.42 688.63L1402.93 685.56L1403.43 682.84L1403.94 678.63L1404.45 673.59L1404.96 668.14L1405.47 666.13L1405.98 664.73L1406.48 665.86L1406.99 668.13L1407.50 671.26L1408.01 677.94L1408.52 678.26L1409.03 685.77L1409.53 689.49L1410.04 689.70L1410.55 694.45L1411.06 697.10L1411.57 700.26L1412.08 703.93L1412.58 701.01L1413.09 699.34L1413.60 705.03L1414.11 699.84L1414.62 706.46L1415.13 705.75L1415.63 702.78L1416.14 704.26L1416.65 702.61L1417.16 706.49L1417.67 707.37L1418.18 709.69L1418.68 708.03L1419.19 707.77L1419.70 708.77L1420.21 704.20L1420.72 706.85L1421.23 710.44L1421.73 698.48L1422.24 707.42L1422.75 708.57L1423.26 701.88L1423.77 702.09L1424.28 708.35L1424.78 709.22L1425.29 707.95L1425.80 702.21L1426.31 706.09L1426.82 707.42L1427.33 705.31L1427.83 701.98L1428.34 708.95L1428.85 706.22L1429.36 708.88L1429.87 699.31L1430.38 700.23L1430.88 702.53L1431.39 705.40L1431.90 703.24L1432.41 710.56L1432.92 704.17L1433.43 708.40L1433.93 708.31L1434.44 706.60L1434.95 705.59L1435.46 703.08L1435.97 702.67L1436.48 703.74L1436.98 706.79L1437.49 702.47L1438.00 704.43L1438.51 700.96L1439.02 706.21L1439.53 710.76L1440.03 704.77L1440.54 697.97L1441.05 702.02L1441.56 703.46L1442.07 700.56L1442.58 701.24L1443.08 701.03L1443.59 703.00L1444.10 701.17L1444.61 700.37L1445.12 701.67L1445.63 701.94L1446.13 698.30L1446.64 695.52L1447.15 694.94L1447.66 693.73L1448.17 691.89L1448.68 686.30L1449.18 687.61L1449.69 683.55L1450.20 679.08L1450.71 677.78L1451.22 673.36L1451.73 668.05L1452.23 662.70L1452.74 659.06L1453.25 654.06L1453.76 649.51L1454.27 646.22L1454.78 640.76L1455.28 639.23L1455.79 638.99L1456.30 637.78L1456.81 640.34L1457.32 642.33L1457.83 645.00L1458.33 649.89L1458.84 652.71L1459.35 659.53L1459.86 662.49L1460.37 666.44L1460.88 669.35L1461.38 673.29L1461.89 676.97L1462.40 679.49L1462.91 681.41L1463.42 680.93L1463.93 683.84L1464.43 682.11L1464.94 682.17L1465.45 680.36L1465.96 679.02L1466.47 673.67L1466.98 673.82L1467.48 669.33L1467.99 665.43L1468.50 660.98L1469.01 656.86L1469.52 652.68L1470.03 648.30L1470.53 646.93L1471.04 643.16L1471.55 642.66L1472.06 641.28L1472.57 643.44L1473.08 645.53L1473.58 648.06L1474.09 650.82L1474.60 655.93L1475.11 660.83L1475.62 664.43L1476.13 671.37L1476.63 677.09L1477.14 679.26L1477.65 682.77L1478.16 683.88L1478.67 685.20L1479.18 693.29L1479.68 688.76L1480.19 692.06L1480.70 694.89L1481.21 697.07L1481.72 693.67L1482.23 699.60L1482.73 701.59L1483.24 700.79L1483.75 704.86L1484.26 700.92L1484.77 702.68L1485.28 701.92L1485.78 702.11L1486.29 705.90L1486.80 700.14L1487.31 706.24L1487.82 701.56L1488.33 708.10L1488.83 703.18L1489.34 706.41L1489.85 704.29L1490.36 706.23L1490.87 710.39L1491.38 707.68L1491.88 704.64L1492.39 703.25L1492.90 708.92L1493.41 710.77L1493.92 707.48L1494.43 705.78L1494.93 706.98L1495.44 707.52L1495.95 703.08L1496.46 702.82L1496.97 703.47L1497.48 708.10L1497.98 705.38L1498.49 706.16L1499.00 709.58L1499.51 703.28L1500.02 705.50L1500.53 707.11L1501.03 701.90L1501.54 703.73L1502.05 703.51L1502.56 702.58L1503.07 703.94L1503.58 709.46L1504.08 707.06L1504.59 703.22L1505.10 708.16L1505.61 705.94L1506.12 704.96L1506.63 702.07L1507.13 702.48L1507.64 703.61L1508.15 706.65L1508.66 703.60L1509.17 704.69L1509.68 706.63L1510.18 702.40L1510.69 704.82L1511.20 708.33L1511.71 702.68L1512.22 706.95L1512.73 704.59L1513.23 710.53L1513.74 706.32L1514.25 708.93L1514.76 709.01L1515.27 711.65L1515.78 700.28L1516.28 706.72L1516.79 705.64L1517.30 703.20L1517.81 706.66L1518.32 704.88L1518.83 710.14L1519.33 705.77L1519.84 707.49L1520.35 704.92L1520.86 705.82L1521.37 710.21L1521.88 711.52L1522.38 709.16L1522.89 704.23L1523.40 705.09L1523.91 705.12L1524.42 711.88L1524.93 713.71L1525.43 707.84L1525.94 706.92L1526.45 707.55L1526.96 704.71L1527.47 706.01L1527.98 708.64L1528.48 707.56L1528.99 704.47L1529.50 704.45L1530.01 704.66L1530.52 697.96L1531.03 704.92L1531.53 703.79L1532.04 706.91L1532.55 705.20L1533.06 702.86L1533.57 702.89L1534.08 705.07L1534.58 703.71L1535.09 704.82L1535.60 710.31L1536.11 714.26L1536.62 698.99L1537.13 703.12L1537.63 705.57L1538.14 710.15L1538.65 708.85L1539.16 701.65L1539.67 712.76L1540.18 706.00L1540.68 702.67L1541.19 704.45L1541.70 702.65L1542.21 704.74L1542.72 697.92L1543.23 706.38L1543.73 706.75L1544.24 702.13L1544.75 698.73L1545.26 701.55L1545.77 698.13L1546.28 700.62L1546.78 700.71L1547.29 693.98L1547.80 692.18L1548.31 690.61L1548.82 692.14L1549.33 691.12L1549.83 688.81L1550.34 685.10L1550.85 681.76L1551.36 679.79L1551.87 680.36L1552.38 676.92L1552.88 676.21L1553.39 675.80L1553.90 676.26L1554.41 677.40L1554.92 677.88L1555.43 680.29L1555.93 682.25L1556.44 685.77L1556.95 686.47L1557.46 689.48L1557.97 695.00L1558.48 692.51L1558.98 695.69L1559.49 694.95L1560.00 698.58L1560.51 699.69L1561.02 700.06L1561.53 701.47L1562.03 703.28L1562.54 707.26L1563.05 698.72L1563.56 707.82L1564.07 705.02L1564.58 702.72L1565.08 703.66L1565.59 703.36L1566.10 702.98L1566.61 701.78L1567.12 704.49L1567.63 697.52L1568.13 708.25L1568.64 704.95L1569.15 706.63L1569.66 707.21L1570.17 704.98L1570.68 701.80L1571.18 707.82L1571.69 707.87L1572.20 703.94L1572.71 704.47L1573.22 700.57L1573.73 703.17L1574.23 705.41L1574.74 706.98L1575.25 705.48L1575.76 706.57L1576.27 709.88L1576.78 706.06L1577.28 706.57L1577.79 706.72L1578.30 707.24L1578.81 701.34L1579.32 704.06L1579.83 703.35L1580.33 707.55L1580.84 708.60L1581.35 706.45L1581.86 704.86L1582.37 706.27L1582.88 705.60L1583.38 702.24L1583.89 703.63L1584.40 706.50L1584.91 704.52L1585.42 704.45L1585.93 701.71L1586.43 704.15L1586.94 701.04L1587.45 698.31L1587.96 699.06L1588.47 700.43L1588.98 699.31L1589.48 697.54L1589.99 696.82L1590.50 696.36L1591.01 698.94L1591.52 702.17L1592.03 696.87L1592.53 700.17L1593.04 700.67L1593.55 701.63L1594.06 705.63L1594.57 704.47L1595.08 703.51L1595.58 701.90L1596.09 704.83L1596.60 713.72L1597.11 706.20L1597.62 704.76L1598.13 702.31L1598.63 704.03L1599.14 699.17L1599.65 702.19L1600.16 702.45L1600.67 703.62L1601.18 710.16L1601.68 703.93L1602.19 704.63L1602.70 707.78L1603.21 704.64L1603.72 705.09L1604.23 707.51L1604.73 706.49L1605.24 706.79L1605.75 705.32L1606.26 706.99L1606.77 704.18L1607.28 710.71L1607.78 706.05L1608.29 709.58L1608.80 706.12L1609.31 703.24L1609.82 704.32L1610.33 704.46L1610.83 703.83L1611.34 699.88L1611.85 706.71L1612.36 701.64L1612.87 707.94L1613.38 705.43L1613.88 704.01L1614.39 706.93L1614.90 704.39L1615.41 703.23L1615.92 708.66L1616.43 705.86L1616.93 706.88L1617.44 711.40L1617.95 706.69L1618.46 708.53L1618.97 702.64L1619.48 708.97L1619.98 701.76L1620.49 708.14L1621.00 701.17L1621.51 705.18L1622.02 705.46L1622.53 704.48L1623.03 704.22L1623.54 702.81L1624.05 701.88L1624.56 707.84L1625.07 710.44L1625.58 714.53L1626.08 708.00L1626.59 704.72L1627.10 705.82L1627.61 706.58L1628.12 707.93L1628.63 708.77L1629.13 707.75L1629.64 705.83L1630.15 712.02L1630.66 704.86L1631.17 711.15L1631.68 707.42L1632.18 708.79L1632.69 708.04" fill="none" stroke="#050505" stroke-width="2.1" stroke-linejoin="round"/>
<rect x="1023.2" y="230.0" width="610.00" height="491.70" fill="none" stroke="#1a1a1a" stroke-width="2.0"/>
<line x1="1013.2" y1="707.90" x2="1023.2" y2="707.90" stroke="#1a1a1a" stroke-width="2.0"/>
<line x1="1013.2" y1="639.30" x2="1023.2" y2="639.30" stroke="#1a1a1a" stroke-width="2.0"/>
<line x1="1013.2" y1="570.70" x2="1023.2" y2="570.70" stroke="#1a1a1a" stroke-width="2.0"/>
<line x1="1013.2" y1="502.10" x2="1023.2" y2="502.10" stroke="#1a1a1a" stroke-width="2.0"/>
<line x1="1013.2" y1="433.50" x2="1023.2" y2="433.50" stroke="#1a1a1a" stroke-width="2.0"/>
<line x1="1013.2" y1="364.90" x2="1023.2" y2="364.90" stroke="#1a1a1a" stroke-width="2.0"/>
<line x1="1013.2" y1="296.30" x2="1023.2" y2="296.30" stroke="#1a1a1a" stroke-width="2.0"/>
<line x1="1017.7" y1="673.60" x2="1023.2" y2="673.60" stroke="#1a1a1a" stroke-width="2.0"/>
<line x1="1017.7" y1="605.00" x2="1023.2" y2="605.00" stroke="#1a1a1a" stroke-width="2.0"/>
<line x1="1017.7" y1="536.40" x2="1023.2" y2="536.40" stroke="#1a1a1a" stroke-width="2.0"/>
<line x1="1017.7" y1="467.80" x2="1023.2" y2="467.80" stroke="#1a1a1a" stroke-width="2.0"/>
<line x1="1017.7" y1="399.20" x2="1023.2" y2="399.20" stroke="#1a1a1a" stroke-width="2.0"/>
<line x1="1017.7" y1="330.60" x2="1023.2" y2="330.60" stroke="#1a1a1a" stroke-width="2.0"/>
<line x1="1017.7" y1="262.00" x2="1023.2" y2="262.00" stroke="#1a1a1a" stroke-width="2.0"/>
<line x1="1023.20" y1="721.7" x2="1023.20" y2="731.2" stroke="#1a1a1a" stroke-width="2.0"/>
<line x1="1124.87" y1="721.7" x2="1124.87" y2="731.2" stroke="#1a1a1a" stroke-width="2.0"/>
<line x1="1226.53" y1="721.7" x2="1226.53" y2="731.2" stroke="#1a1a1a" stroke-width="2.0"/>
<line x1="1328.20" y1="721.7" x2="1328.20" y2="731.2" stroke="#1a1a1a" stroke-width="2.0"/>
<line x1="1429.87" y1="721.7" x2="1429.87" y2="731.2" stroke="#1a1a1a" stroke-width="2.0"/>
<line x1="1531.53" y1="721.7" x2="1531.53" y2="731.2" stroke="#1a1a1a" stroke-width="2.0"/>
<line x1="1633.20" y1="721.7" x2="1633.20" y2="731.2" stroke="#1a1a1a" stroke-width="2.0"/>
<line x1="1074.03" y1="721.7" x2="1074.03" y2="726.7" stroke="#1a1a1a" stroke-width="2.0"/>
<line x1="1175.70" y1="721.7" x2="1175.70" y2="726.7" stroke="#1a1a1a" stroke-width="2.0"/>
<line x1="1277.37" y1="721.7" x2="1277.37" y2="726.7" stroke="#1a1a1a" stroke-width="2.0"/>
<line x1="1379.03" y1="721.7" x2="1379.03" y2="726.7" stroke="#1a1a1a" stroke-width="2.0"/>
<line x1="1480.70" y1="721.7" x2="1480.70" y2="726.7" stroke="#1a1a1a" stroke-width="2.0"/>
<line x1="1582.37" y1="721.7" x2="1582.37" y2="726.7" stroke="#1a1a1a" stroke-width="2.0"/>
<text x="1023.20" y="754.30" font-size="20.5" text-anchor="middle" >20</text>
<text x="1124.87" y="754.30" font-size="20.5" text-anchor="middle" >30</text>
<text x="1226.53" y="754.30" font-size="20.5" text-anchor="middle" >40</text>
<text x="1328.20" y="754.30" font-size="20.5" text-anchor="middle" >50</text>
<text x="1429.87" y="754.30" font-size="20.5" text-anchor="middle" >60</text>
<text x="1531.53" y="754.30" font-size="20.5" text-anchor="middle" >70</text>
<text x="1633.20" y="754.30" font-size="20.5" text-anchor="middle" >80</text>
<text x="1296.60" y="796.80" font-size="25.5" text-anchor="start" >2<tspan dx="2.2" font-family="Liberation Serif, serif" font-style="italic">θ</tspan><tspan dx="0.3"> (º)</tspan></text>
<text x="0.00" y="0.00" font-size="25" text-anchor="start" transform="translate(974,596) rotate(-90)">Intensity / (arb. units)</text>
<text x="1042.80" y="206.50" font-size="35.5" text-anchor="start" stroke="#fff" stroke-width="0.4">c)</text>
<text x="0.00" y="0.00" font-size="21" text-anchor="start" transform="translate(1075.6,583.5) rotate(-90)">(0 1 2)</text>
<text x="0.00" y="0.00" font-size="21" text-anchor="start" transform="translate(1166.3,299.4) rotate(-90)">(1 0 4)</text>
<text x="0.00" y="0.00" font-size="21" text-anchor="start" transform="translate(1191.2,432.1) rotate(-90)">(1 1 0)</text>
<text x="0.00" y="0.00" font-size="21" text-anchor="start" transform="translate(1242.0,615.0) rotate(-90)">(1 1 3)</text>
<text x="0.00" y="0.00" font-size="21" text-anchor="start" transform="translate(1270.2,669.0) rotate(-90)">(2 0 2)</text>
<text x="0.00" y="0.00" font-size="21" text-anchor="start" transform="translate(1329.0,577.3) rotate(-90)">(0 2 4)</text>
<text x="0.00" y="0.00" font-size="21" text-anchor="start" transform="translate(1380.0,558.6) rotate(-90)">(1 1 6)</text>
<text x="0.00" y="0.00" font-size="21" text-anchor="start" transform="translate(1416.0,649.9) rotate(-90)">(1 2 2)</text>
<text x="0.00" y="0.00" font-size="21" text-anchor="start" transform="translate(1457.2,606.6) rotate(-90)">(2 1 4)</text>
<text x="0.00" y="0.00" font-size="21" text-anchor="start" transform="translate(1484.4,613.0) rotate(-90)">(3 0 0)</text>
<text x="0.00" y="0.00" font-size="21" text-anchor="start" transform="translate(1562.8,659.5) rotate(-90)">(1 0 10)</text>
<text x="0.00" y="0.00" font-size="21" text-anchor="start" transform="translate(1599.2,679.7) rotate(-90)">(2 2 0)</text>
<rect x="1460.2" y="248" width="155.5" height="79.2" fill="#fff" stroke="#7a7a7a" stroke-width="1.4"/>
<line x1="1463.7" y1="262.4" x2="1511" y2="262.4" stroke="#111" stroke-width="2"/>
<line x1="1463.7" y1="287.9" x2="1511" y2="287.9" stroke="#3344dd" stroke-width="2"/>
<line x1="1463.7" y1="312.8" x2="1511" y2="312.8" stroke="#e0453a" stroke-width="2" stroke-dasharray="8.7 7.5"/>
<text x="1516.50" y="270.50" font-size="21" text-anchor="start" >Observed</text>
<text x="1516.50" y="295.50" font-size="21" text-anchor="start" >Fitted</text>
<text x="1516.50" y="320.50" font-size="21" text-anchor="start" >Difference</text>
</svg>
</body></html>
